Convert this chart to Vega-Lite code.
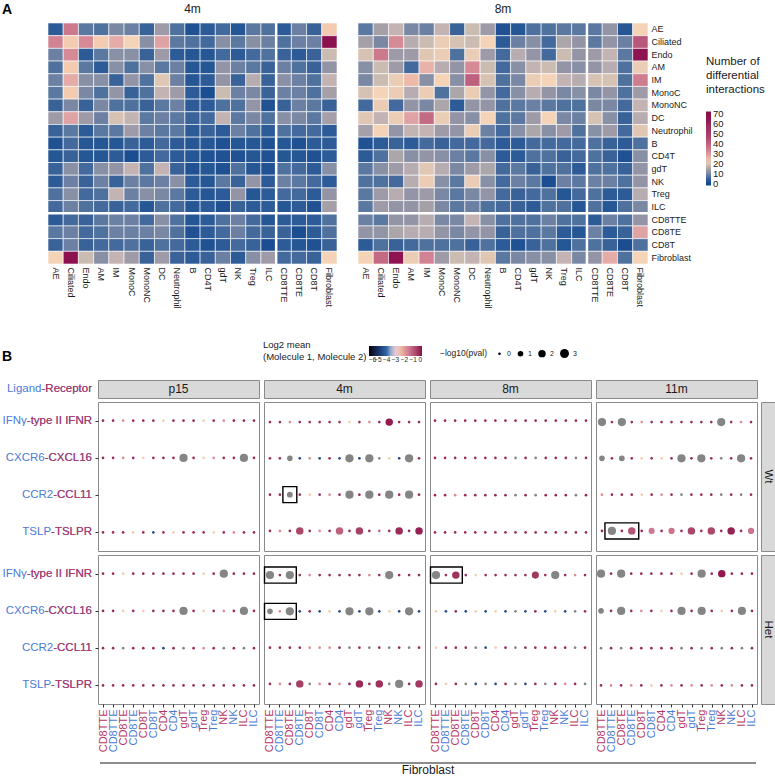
{
"$schema":"https://vega.github.io/schema/vega-lite/v6.json",
"background":"white",
"padding":{"left":2,"top":2,"right":0,"bottom":0},
"config":{"view":{"stroke":null},"font":"Liberation Sans","text":{"font":"Liberation Sans"},"scale":{"invalid":{"fill":{"value":"#858585"},"color":{"value":"#858585"}}},"axis":{"labelFont":"Liberation Sans","labelColor":"#1a1a1a"},"legend":{"labelFont":"Liberation Sans","titleFont":"Liberation Sans","titleFontWeight":"normal","titleColor":"#1a1a1a","labelColor":"#1a1a1a","labelOverlap":false},"title":{"font":"Liberation Sans","fontWeight":"normal","fontSize":12,"color":"#1a1a1a","offset":6}},
"datasets":{
"h4":[
{"r":"AE","c":"AE","v":4},{"r":"AE","c":"Ciliated","v":35},{"r":"AE","c":"Endo","v":8},{"r":"AE","c":"AM","v":7},{"r":"AE","c":"IM","v":10},{"r":"AE","c":"MonoC","v":9},{"r":"AE","c":"MonoNC","v":5},{"r":"AE","c":"DC","v":13},{"r":"AE","c":"Neutrophil","v":7},{"r":"AE","c":"B","v":2},{"r":"AE","c":"CD4T","v":4},{"r":"AE","c":"gdT","v":6},{"r":"AE","c":"NK","v":3},{"r":"AE","c":"Treg","v":8},{"r":"AE","c":"ILC","v":7},{"r":"AE","c":"CD8TTE","v":4},{"r":"AE","c":"CD8TE","v":9},{"r":"AE","c":"CD8T","v":5},{"r":"AE","c":"Fibroblast","v":23},
{"r":"Ciliated","c":"AE","v":33},{"r":"Ciliated","c":"Ciliated","v":23},{"r":"Ciliated","c":"Endo","v":32},{"r":"Ciliated","c":"AM","v":23},{"r":"Ciliated","c":"IM","v":27},{"r":"Ciliated","c":"MonoC","v":22},{"r":"Ciliated","c":"MonoNC","v":11},{"r":"Ciliated","c":"DC","v":28},{"r":"Ciliated","c":"Neutrophil","v":8},{"r":"Ciliated","c":"B","v":7},{"r":"Ciliated","c":"CD4T","v":6},{"r":"Ciliated","c":"gdT","v":11},{"r":"Ciliated","c":"NK","v":8},{"r":"Ciliated","c":"Treg","v":11},{"r":"Ciliated","c":"ILC","v":9},{"r":"Ciliated","c":"CD8TTE","v":7},{"r":"Ciliated","c":"CD8TE","v":9},{"r":"Ciliated","c":"CD8T","v":9},{"r":"Ciliated","c":"Fibroblast","v":68},
{"r":"Endo","c":"AE","v":9},{"r":"Endo","c":"Ciliated","v":32},{"r":"Endo","c":"Endo","v":4},{"r":"Endo","c":"AM","v":8},{"r":"Endo","c":"IM","v":11},{"r":"Endo","c":"MonoC","v":11},{"r":"Endo","c":"MonoNC","v":5},{"r":"Endo","c":"DC","v":13},{"r":"Endo","c":"Neutrophil","v":4},{"r":"Endo","c":"B","v":3},{"r":"Endo","c":"CD4T","v":3},{"r":"Endo","c":"gdT","v":6},{"r":"Endo","c":"NK","v":4},{"r":"Endo","c":"Treg","v":6},{"r":"Endo","c":"ILC","v":7},{"r":"Endo","c":"CD8TTE","v":5},{"r":"Endo","c":"CD8TE","v":4},{"r":"Endo","c":"CD8T","v":5},{"r":"Endo","c":"Fibroblast","v":18},
{"r":"AM","c":"AE","v":7},{"r":"AM","c":"Ciliated","v":23},{"r":"AM","c":"Endo","v":8},{"r":"AM","c":"AM","v":4},{"r":"AM","c":"IM","v":11},{"r":"AM","c":"MonoC","v":7},{"r":"AM","c":"MonoNC","v":11},{"r":"AM","c":"DC","v":8},{"r":"AM","c":"Neutrophil","v":9},{"r":"AM","c":"B","v":3},{"r":"AM","c":"CD4T","v":3},{"r":"AM","c":"gdT","v":12},{"r":"AM","c":"NK","v":9},{"r":"AM","c":"Treg","v":8},{"r":"AM","c":"ILC","v":5},{"r":"AM","c":"CD8TTE","v":9},{"r":"AM","c":"CD8TE","v":7},{"r":"AM","c":"CD8T","v":5},{"r":"AM","c":"Fibroblast","v":12},
{"r":"IM","c":"AE","v":9},{"r":"IM","c":"Ciliated","v":27},{"r":"IM","c":"Endo","v":11},{"r":"IM","c":"AM","v":11},{"r":"IM","c":"IM","v":5},{"r":"IM","c":"MonoC","v":12},{"r":"IM","c":"MonoNC","v":7},{"r":"IM","c":"DC","v":20},{"r":"IM","c":"Neutrophil","v":9},{"r":"IM","c":"B","v":3},{"r":"IM","c":"CD4T","v":4},{"r":"IM","c":"gdT","v":12},{"r":"IM","c":"NK","v":5},{"r":"IM","c":"Treg","v":16},{"r":"IM","c":"ILC","v":5},{"r":"IM","c":"CD8TTE","v":11},{"r":"IM","c":"CD8TE","v":9},{"r":"IM","c":"CD8T","v":7},{"r":"IM","c":"Fibroblast","v":17},
{"r":"MonoC","c":"AE","v":8},{"r":"MonoC","c":"Ciliated","v":23},{"r":"MonoC","c":"Endo","v":10},{"r":"MonoC","c":"AM","v":7},{"r":"MonoC","c":"IM","v":12},{"r":"MonoC","c":"MonoC","v":5},{"r":"MonoC","c":"MonoNC","v":7},{"r":"MonoC","c":"DC","v":17},{"r":"MonoC","c":"Neutrophil","v":13},{"r":"MonoC","c":"B","v":4},{"r":"MonoC","c":"CD4T","v":1},{"r":"MonoC","c":"gdT","v":18},{"r":"MonoC","c":"NK","v":9},{"r":"MonoC","c":"Treg","v":10},{"r":"MonoC","c":"ILC","v":5},{"r":"MonoC","c":"CD8TTE","v":9},{"r":"MonoC","c":"CD8TE","v":9},{"r":"MonoC","c":"CD8T","v":7},{"r":"MonoC","c":"Fibroblast","v":14},
{"r":"MonoNC","c":"AE","v":5},{"r":"MonoNC","c":"Ciliated","v":10},{"r":"MonoNC","c":"Endo","v":5},{"r":"MonoNC","c":"AM","v":10},{"r":"MonoNC","c":"IM","v":7},{"r":"MonoNC","c":"MonoC","v":7},{"r":"MonoNC","c":"MonoNC","v":5},{"r":"MonoNC","c":"DC","v":8},{"r":"MonoNC","c":"Neutrophil","v":9},{"r":"MonoNC","c":"B","v":4},{"r":"MonoNC","c":"CD4T","v":4},{"r":"MonoNC","c":"gdT","v":7},{"r":"MonoNC","c":"NK","v":7},{"r":"MonoNC","c":"Treg","v":12},{"r":"MonoNC","c":"ILC","v":2},{"r":"MonoNC","c":"CD8TTE","v":5},{"r":"MonoNC","c":"CD8TE","v":9},{"r":"MonoNC","c":"CD8T","v":8},{"r":"MonoNC","c":"Fibroblast","v":5},
{"r":"DC","c":"AE","v":13},{"r":"DC","c":"Ciliated","v":28},{"r":"DC","c":"Endo","v":13},{"r":"DC","c":"AM","v":9},{"r":"DC","c":"IM","v":19},{"r":"DC","c":"MonoC","v":17},{"r":"DC","c":"MonoNC","v":8},{"r":"DC","c":"DC","v":9},{"r":"DC","c":"Neutrophil","v":8},{"r":"DC","c":"B","v":5},{"r":"DC","c":"CD4T","v":6},{"r":"DC","c":"gdT","v":17},{"r":"DC","c":"NK","v":8},{"r":"DC","c":"Treg","v":10},{"r":"DC","c":"ILC","v":7},{"r":"DC","c":"CD8TTE","v":11},{"r":"DC","c":"CD8TE","v":10},{"r":"DC","c":"CD8T","v":8},{"r":"DC","c":"Fibroblast","v":14},
{"r":"Neutrophil","c":"AE","v":5},{"r":"Neutrophil","c":"Ciliated","v":8},{"r":"Neutrophil","c":"Endo","v":4},{"r":"Neutrophil","c":"AM","v":8},{"r":"Neutrophil","c":"IM","v":8},{"r":"Neutrophil","c":"MonoC","v":13},{"r":"Neutrophil","c":"MonoNC","v":9},{"r":"Neutrophil","c":"DC","v":8},{"r":"Neutrophil","c":"Neutrophil","v":8},{"r":"Neutrophil","c":"B","v":4},{"r":"Neutrophil","c":"CD4T","v":5},{"r":"Neutrophil","c":"gdT","v":4},{"r":"Neutrophil","c":"NK","v":9},{"r":"Neutrophil","c":"Treg","v":7},{"r":"Neutrophil","c":"ILC","v":4},{"r":"Neutrophil","c":"CD8TTE","v":7},{"r":"Neutrophil","c":"CD8TE","v":6},{"r":"Neutrophil","c":"CD8T","v":6},{"r":"Neutrophil","c":"Fibroblast","v":4},
{"r":"B","c":"AE","v":2},{"r":"B","c":"Ciliated","v":6},{"r":"B","c":"Endo","v":3},{"r":"B","c":"AM","v":3},{"r":"B","c":"IM","v":3},{"r":"B","c":"MonoC","v":5},{"r":"B","c":"MonoNC","v":4},{"r":"B","c":"DC","v":6},{"r":"B","c":"Neutrophil","v":4},{"r":"B","c":"B","v":3},{"r":"B","c":"CD4T","v":3},{"r":"B","c":"gdT","v":2},{"r":"B","c":"NK","v":3},{"r":"B","c":"Treg","v":3},{"r":"B","c":"ILC","v":2},{"r":"B","c":"CD8TTE","v":3},{"r":"B","c":"CD8TE","v":2},{"r":"B","c":"CD8T","v":4},{"r":"B","c":"Fibroblast","v":4},
{"r":"CD4T","c":"AE","v":3},{"r":"CD4T","c":"Ciliated","v":5},{"r":"CD4T","c":"Endo","v":3},{"r":"CD4T","c":"AM","v":3},{"r":"CD4T","c":"IM","v":4},{"r":"CD4T","c":"MonoC","v":1},{"r":"CD4T","c":"MonoNC","v":4},{"r":"CD4T","c":"DC","v":6},{"r":"CD4T","c":"Neutrophil","v":4},{"r":"CD4T","c":"B","v":3},{"r":"CD4T","c":"CD4T","v":2},{"r":"CD4T","c":"gdT","v":2},{"r":"CD4T","c":"NK","v":2},{"r":"CD4T","c":"Treg","v":3},{"r":"CD4T","c":"ILC","v":2},{"r":"CD4T","c":"CD8TTE","v":3},{"r":"CD4T","c":"CD8TE","v":3},{"r":"CD4T","c":"CD8T","v":2},{"r":"CD4T","c":"Fibroblast","v":4},
{"r":"gdT","c":"AE","v":5},{"r":"gdT","c":"Ciliated","v":11},{"r":"gdT","c":"Endo","v":6},{"r":"gdT","c":"AM","v":11},{"r":"gdT","c":"IM","v":12},{"r":"gdT","c":"MonoC","v":17},{"r":"gdT","c":"MonoNC","v":7},{"r":"gdT","c":"DC","v":17},{"r":"gdT","c":"Neutrophil","v":5},{"r":"gdT","c":"B","v":2},{"r":"gdT","c":"CD4T","v":3},{"r":"gdT","c":"gdT","v":2},{"r":"gdT","c":"NK","v":7},{"r":"gdT","c":"Treg","v":3},{"r":"gdT","c":"ILC","v":2},{"r":"gdT","c":"CD8TTE","v":7},{"r":"gdT","c":"CD8TE","v":6},{"r":"gdT","c":"CD8T","v":4},{"r":"gdT","c":"Fibroblast","v":11},
{"r":"NK","c":"AE","v":4},{"r":"NK","c":"Ciliated","v":9},{"r":"NK","c":"Endo","v":5},{"r":"NK","c":"AM","v":9},{"r":"NK","c":"IM","v":5},{"r":"NK","c":"MonoC","v":9},{"r":"NK","c":"MonoNC","v":8},{"r":"NK","c":"DC","v":9},{"r":"NK","c":"Neutrophil","v":11},{"r":"NK","c":"B","v":4},{"r":"NK","c":"CD4T","v":3},{"r":"NK","c":"gdT","v":8},{"r":"NK","c":"NK","v":5},{"r":"NK","c":"Treg","v":12},{"r":"NK","c":"ILC","v":4},{"r":"NK","c":"CD8TTE","v":9},{"r":"NK","c":"CD8TE","v":8},{"r":"NK","c":"CD8T","v":6},{"r":"NK","c":"Fibroblast","v":4},
{"r":"Treg","c":"AE","v":7},{"r":"Treg","c":"Ciliated","v":11},{"r":"Treg","c":"Endo","v":6},{"r":"Treg","c":"AM","v":7},{"r":"Treg","c":"IM","v":17},{"r":"Treg","c":"MonoC","v":9},{"r":"Treg","c":"MonoNC","v":11},{"r":"Treg","c":"DC","v":10},{"r":"Treg","c":"Neutrophil","v":8},{"r":"Treg","c":"B","v":4},{"r":"Treg","c":"CD4T","v":3},{"r":"Treg","c":"gdT","v":4},{"r":"Treg","c":"NK","v":12},{"r":"Treg","c":"Treg","v":3},{"r":"Treg","c":"ILC","v":4},{"r":"Treg","c":"CD8TTE","v":6},{"r":"Treg","c":"CD8TE","v":6},{"r":"Treg","c":"CD8T","v":4},{"r":"Treg","c":"Fibroblast","v":12},
{"r":"ILC","c":"AE","v":6},{"r":"ILC","c":"Ciliated","v":9},{"r":"ILC","c":"Endo","v":7},{"r":"ILC","c":"AM","v":6},{"r":"ILC","c":"IM","v":5},{"r":"ILC","c":"MonoC","v":6},{"r":"ILC","c":"MonoNC","v":3},{"r":"ILC","c":"DC","v":7},{"r":"ILC","c":"Neutrophil","v":6},{"r":"ILC","c":"B","v":3},{"r":"ILC","c":"CD4T","v":4},{"r":"ILC","c":"gdT","v":2},{"r":"ILC","c":"NK","v":5},{"r":"ILC","c":"Treg","v":4},{"r":"ILC","c":"ILC","v":4},{"r":"ILC","c":"CD8TTE","v":3},{"r":"ILC","c":"CD8TE","v":4},{"r":"ILC","c":"CD8T","v":2},{"r":"ILC","c":"Fibroblast","v":14},
{"r":"CD8TTE","c":"AE","v":4},{"r":"CD8TTE","c":"Ciliated","v":6},{"r":"CD8TTE","c":"Endo","v":5},{"r":"CD8TTE","c":"AM","v":8},{"r":"CD8TTE","c":"IM","v":9},{"r":"CD8TTE","c":"MonoC","v":9},{"r":"CD8TTE","c":"MonoNC","v":6},{"r":"CD8TTE","c":"DC","v":11},{"r":"CD8TTE","c":"Neutrophil","v":7},{"r":"CD8TTE","c":"B","v":3},{"r":"CD8TTE","c":"CD4T","v":4},{"r":"CD8TTE","c":"gdT","v":7},{"r":"CD8TTE","c":"NK","v":9},{"r":"CD8TTE","c":"Treg","v":6},{"r":"CD8TTE","c":"ILC","v":3},{"r":"CD8TTE","c":"CD8TTE","v":4},{"r":"CD8TTE","c":"CD8TE","v":4},{"r":"CD8TTE","c":"CD8T","v":4},{"r":"CD8TTE","c":"Fibroblast","v":7},
{"r":"CD8TE","c":"AE","v":8},{"r":"CD8TE","c":"Ciliated","v":9},{"r":"CD8TE","c":"Endo","v":6},{"r":"CD8TE","c":"AM","v":7},{"r":"CD8TE","c":"IM","v":9},{"r":"CD8TE","c":"MonoC","v":9},{"r":"CD8TE","c":"MonoNC","v":9},{"r":"CD8TE","c":"DC","v":10},{"r":"CD8TE","c":"Neutrophil","v":7},{"r":"CD8TE","c":"B","v":2},{"r":"CD8TE","c":"CD4T","v":4},{"r":"CD8TE","c":"gdT","v":6},{"r":"CD8TE","c":"NK","v":9},{"r":"CD8TE","c":"Treg","v":6},{"r":"CD8TE","c":"ILC","v":5},{"r":"CD8TE","c":"CD8TTE","v":5},{"r":"CD8TE","c":"CD8TE","v":1},{"r":"CD8TE","c":"CD8T","v":4},{"r":"CD8TE","c":"Fibroblast","v":7},
{"r":"CD8T","c":"AE","v":5},{"r":"CD8T","c":"Ciliated","v":9},{"r":"CD8T","c":"Endo","v":5},{"r":"CD8T","c":"AM","v":6},{"r":"CD8T","c":"IM","v":6},{"r":"CD8T","c":"MonoC","v":7},{"r":"CD8T","c":"MonoNC","v":5},{"r":"CD8T","c":"DC","v":7},{"r":"CD8T","c":"Neutrophil","v":6},{"r":"CD8T","c":"B","v":4},{"r":"CD8T","c":"CD4T","v":2},{"r":"CD8T","c":"gdT","v":4},{"r":"CD8T","c":"NK","v":6},{"r":"CD8T","c":"Treg","v":5},{"r":"CD8T","c":"ILC","v":1},{"r":"CD8T","c":"CD8TTE","v":4},{"r":"CD8T","c":"CD8TE","v":3},{"r":"CD8T","c":"CD8T","v":2},{"r":"CD8T","c":"Fibroblast","v":5},
{"r":"Fibroblast","c":"AE","v":22},{"r":"Fibroblast","c":"Ciliated","v":68},{"r":"Fibroblast","c":"Endo","v":18},{"r":"Fibroblast","c":"AM","v":11},{"r":"Fibroblast","c":"IM","v":17},{"r":"Fibroblast","c":"MonoC","v":13},{"r":"Fibroblast","c":"MonoNC","v":5},{"r":"Fibroblast","c":"DC","v":13},{"r":"Fibroblast","c":"Neutrophil","v":5},{"r":"Fibroblast","c":"B","v":4},{"r":"Fibroblast","c":"CD4T","v":5},{"r":"Fibroblast","c":"gdT","v":9},{"r":"Fibroblast","c":"NK","v":4},{"r":"Fibroblast","c":"Treg","v":11},{"r":"Fibroblast","c":"ILC","v":13},{"r":"Fibroblast","c":"CD8TTE","v":6},{"r":"Fibroblast","c":"CD8TE","v":6},{"r":"Fibroblast","c":"CD8T","v":5},{"r":"Fibroblast","c":"Fibroblast","v":22}
],
"h8":[
{"r":"AE","c":"AE","v":8},{"r":"AE","c":"Ciliated","v":14},{"r":"AE","c":"Endo","v":17},{"r":"AE","c":"AM","v":10},{"r":"AE","c":"IM","v":9},{"r":"AE","c":"MonoC","v":17},{"r":"AE","c":"MonoNC","v":5},{"r":"AE","c":"DC","v":18},{"r":"AE","c":"Neutrophil","v":13},{"r":"AE","c":"B","v":2},{"r":"AE","c":"CD4T","v":3},{"r":"AE","c":"gdT","v":7},{"r":"AE","c":"NK","v":7},{"r":"AE","c":"Treg","v":8},{"r":"AE","c":"ILC","v":8},{"r":"AE","c":"CD8TTE","v":8},{"r":"AE","c":"CD8TE","v":12},{"r":"AE","c":"CD8T","v":3},{"r":"AE","c":"Fibroblast","v":22},
{"r":"Ciliated","c":"AE","v":14},{"r":"Ciliated","c":"Ciliated","v":10},{"r":"Ciliated","c":"Endo","v":32},{"r":"Ciliated","c":"AM","v":16},{"r":"Ciliated","c":"IM","v":18},{"r":"Ciliated","c":"MonoC","v":21},{"r":"Ciliated","c":"MonoNC","v":19},{"r":"Ciliated","c":"DC","v":18},{"r":"Ciliated","c":"Neutrophil","v":22},{"r":"Ciliated","c":"B","v":4},{"r":"Ciliated","c":"CD4T","v":9},{"r":"Ciliated","c":"gdT","v":11},{"r":"Ciliated","c":"NK","v":6},{"r":"Ciliated","c":"Treg","v":15},{"r":"Ciliated","c":"ILC","v":12},{"r":"Ciliated","c":"CD8TTE","v":8},{"r":"Ciliated","c":"CD8TE","v":12},{"r":"Ciliated","c":"CD8T","v":9},{"r":"Ciliated","c":"Fibroblast","v":42},
{"r":"Endo","c":"AE","v":19},{"r":"Endo","c":"Ciliated","v":35},{"r":"Endo","c":"Endo","v":13},{"r":"Endo","c":"AM","v":13},{"r":"Endo","c":"IM","v":20},{"r":"Endo","c":"MonoC","v":21},{"r":"Endo","c":"MonoNC","v":7},{"r":"Endo","c":"DC","v":21},{"r":"Endo","c":"Neutrophil","v":13},{"r":"Endo","c":"B","v":6},{"r":"Endo","c":"CD4T","v":16},{"r":"Endo","c":"gdT","v":12},{"r":"Endo","c":"NK","v":6},{"r":"Endo","c":"Treg","v":18},{"r":"Endo","c":"ILC","v":12},{"r":"Endo","c":"CD8TTE","v":13},{"r":"Endo","c":"CD8TE","v":17},{"r":"Endo","c":"CD8T","v":8},{"r":"Endo","c":"Fibroblast","v":65},
{"r":"AM","c":"AE","v":11},{"r":"AM","c":"Ciliated","v":18},{"r":"AM","c":"Endo","v":13},{"r":"AM","c":"AM","v":6},{"r":"AM","c":"IM","v":26},{"r":"AM","c":"MonoC","v":16},{"r":"AM","c":"MonoNC","v":12},{"r":"AM","c":"DC","v":32},{"r":"AM","c":"Neutrophil","v":18},{"r":"AM","c":"B","v":6},{"r":"AM","c":"CD4T","v":11},{"r":"AM","c":"gdT","v":17},{"r":"AM","c":"NK","v":18},{"r":"AM","c":"Treg","v":12},{"r":"AM","c":"ILC","v":11},{"r":"AM","c":"CD8TTE","v":12},{"r":"AM","c":"CD8TE","v":16},{"r":"AM","c":"CD8T","v":7},{"r":"AM","c":"Fibroblast","v":21},
{"r":"IM","c":"AE","v":10},{"r":"IM","c":"Ciliated","v":18},{"r":"IM","c":"Endo","v":21},{"r":"IM","c":"AM","v":25},{"r":"IM","c":"IM","v":11},{"r":"IM","c":"MonoC","v":22},{"r":"IM","c":"MonoNC","v":11},{"r":"IM","c":"DC","v":40},{"r":"IM","c":"Neutrophil","v":19},{"r":"IM","c":"B","v":7},{"r":"IM","c":"CD4T","v":10},{"r":"IM","c":"gdT","v":21},{"r":"IM","c":"NK","v":22},{"r":"IM","c":"Treg","v":17},{"r":"IM","c":"ILC","v":16},{"r":"IM","c":"CD8TTE","v":19},{"r":"IM","c":"CD8TE","v":19},{"r":"IM","c":"CD8T","v":7},{"r":"IM","c":"Fibroblast","v":34},
{"r":"MonoC","c":"AE","v":19},{"r":"MonoC","c":"Ciliated","v":22},{"r":"MonoC","c":"Endo","v":21},{"r":"MonoC","c":"AM","v":16},{"r":"MonoC","c":"IM","v":21},{"r":"MonoC","c":"MonoC","v":7},{"r":"MonoC","c":"MonoNC","v":15},{"r":"MonoC","c":"DC","v":21},{"r":"MonoC","c":"Neutrophil","v":12},{"r":"MonoC","c":"B","v":6},{"r":"MonoC","c":"CD4T","v":11},{"r":"MonoC","c":"gdT","v":16},{"r":"MonoC","c":"NK","v":12},{"r":"MonoC","c":"Treg","v":10},{"r":"MonoC","c":"ILC","v":11},{"r":"MonoC","c":"CD8TTE","v":10},{"r":"MonoC","c":"CD8TE","v":12},{"r":"MonoC","c":"CD8T","v":7},{"r":"MonoC","c":"Fibroblast","v":13},
{"r":"MonoNC","c":"AE","v":6},{"r":"MonoNC","c":"Ciliated","v":21},{"r":"MonoNC","c":"Endo","v":6},{"r":"MonoNC","c":"AM","v":12},{"r":"MonoNC","c":"IM","v":10},{"r":"MonoNC","c":"MonoC","v":15},{"r":"MonoNC","c":"MonoNC","v":4},{"r":"MonoNC","c":"DC","v":12},{"r":"MonoNC","c":"Neutrophil","v":12},{"r":"MonoNC","c":"B","v":7},{"r":"MonoNC","c":"CD4T","v":8},{"r":"MonoNC","c":"gdT","v":9},{"r":"MonoNC","c":"NK","v":8},{"r":"MonoNC","c":"Treg","v":7},{"r":"MonoNC","c":"ILC","v":7},{"r":"MonoNC","c":"CD8TTE","v":10},{"r":"MonoNC","c":"CD8TE","v":10},{"r":"MonoNC","c":"CD8T","v":6},{"r":"MonoNC","c":"Fibroblast","v":17},
{"r":"DC","c":"AE","v":20},{"r":"DC","c":"Ciliated","v":17},{"r":"DC","c":"Endo","v":21},{"r":"DC","c":"AM","v":28},{"r":"DC","c":"IM","v":38},{"r":"DC","c":"MonoC","v":21},{"r":"DC","c":"MonoNC","v":12},{"r":"DC","c":"DC","v":11},{"r":"DC","c":"Neutrophil","v":22},{"r":"DC","c":"B","v":7},{"r":"DC","c":"CD4T","v":8},{"r":"DC","c":"gdT","v":13},{"r":"DC","c":"NK","v":22},{"r":"DC","c":"Treg","v":10},{"r":"DC","c":"ILC","v":9},{"r":"DC","c":"CD8TTE","v":19},{"r":"DC","c":"CD8TE","v":11},{"r":"DC","c":"CD8T","v":5},{"r":"DC","c":"Fibroblast","v":16},
{"r":"Neutrophil","c":"AE","v":14},{"r":"Neutrophil","c":"Ciliated","v":22},{"r":"Neutrophil","c":"Endo","v":12},{"r":"Neutrophil","c":"AM","v":17},{"r":"Neutrophil","c":"IM","v":17},{"r":"Neutrophil","c":"MonoC","v":13},{"r":"Neutrophil","c":"MonoNC","v":12},{"r":"Neutrophil","c":"DC","v":21},{"r":"Neutrophil","c":"Neutrophil","v":9},{"r":"Neutrophil","c":"B","v":6},{"r":"Neutrophil","c":"CD4T","v":11},{"r":"Neutrophil","c":"gdT","v":15},{"r":"Neutrophil","c":"NK","v":11},{"r":"Neutrophil","c":"Treg","v":13},{"r":"Neutrophil","c":"ILC","v":7},{"r":"Neutrophil","c":"CD8TTE","v":11},{"r":"Neutrophil","c":"CD8TE","v":13},{"r":"Neutrophil","c":"CD8T","v":6},{"r":"Neutrophil","c":"Fibroblast","v":20},
{"r":"B","c":"AE","v":2},{"r":"B","c":"Ciliated","v":4},{"r":"B","c":"Endo","v":5},{"r":"B","c":"AM","v":4},{"r":"B","c":"IM","v":6},{"r":"B","c":"MonoC","v":5},{"r":"B","c":"MonoNC","v":6},{"r":"B","c":"DC","v":6},{"r":"B","c":"Neutrophil","v":6},{"r":"B","c":"B","v":4},{"r":"B","c":"CD4T","v":4},{"r":"B","c":"gdT","v":6},{"r":"B","c":"NK","v":6},{"r":"B","c":"Treg","v":6},{"r":"B","c":"ILC","v":6},{"r":"B","c":"CD8TTE","v":7},{"r":"B","c":"CD8TE","v":5},{"r":"B","c":"CD8T","v":4},{"r":"B","c":"Fibroblast","v":7},
{"r":"CD4T","c":"AE","v":4},{"r":"CD4T","c":"Ciliated","v":7},{"r":"CD4T","c":"Endo","v":15},{"r":"CD4T","c":"AM","v":11},{"r":"CD4T","c":"IM","v":12},{"r":"CD4T","c":"MonoC","v":11},{"r":"CD4T","c":"MonoNC","v":9},{"r":"CD4T","c":"DC","v":8},{"r":"CD4T","c":"Neutrophil","v":11},{"r":"CD4T","c":"B","v":4},{"r":"CD4T","c":"CD4T","v":4},{"r":"CD4T","c":"gdT","v":7},{"r":"CD4T","c":"NK","v":7},{"r":"CD4T","c":"Treg","v":5},{"r":"CD4T","c":"ILC","v":6},{"r":"CD4T","c":"CD8TTE","v":7},{"r":"CD4T","c":"CD8TE","v":5},{"r":"CD4T","c":"CD8T","v":2},{"r":"CD4T","c":"Fibroblast","v":11},
{"r":"gdT","c":"AE","v":8},{"r":"gdT","c":"Ciliated","v":11},{"r":"gdT","c":"Endo","v":13},{"r":"gdT","c":"AM","v":16},{"r":"gdT","c":"IM","v":20},{"r":"gdT","c":"MonoC","v":16},{"r":"gdT","c":"MonoNC","v":10},{"r":"gdT","c":"DC","v":13},{"r":"gdT","c":"Neutrophil","v":15},{"r":"gdT","c":"B","v":6},{"r":"gdT","c":"CD4T","v":8},{"r":"gdT","c":"gdT","v":5},{"r":"gdT","c":"NK","v":7},{"r":"gdT","c":"Treg","v":7},{"r":"gdT","c":"ILC","v":4},{"r":"gdT","c":"CD8TTE","v":7},{"r":"gdT","c":"CD8TE","v":7},{"r":"gdT","c":"CD8T","v":5},{"r":"gdT","c":"Fibroblast","v":12},
{"r":"NK","c":"AE","v":7},{"r":"NK","c":"Ciliated","v":7},{"r":"NK","c":"Endo","v":6},{"r":"NK","c":"AM","v":16},{"r":"NK","c":"IM","v":21},{"r":"NK","c":"MonoC","v":11},{"r":"NK","c":"MonoNC","v":8},{"r":"NK","c":"DC","v":21},{"r":"NK","c":"Neutrophil","v":11},{"r":"NK","c":"B","v":6},{"r":"NK","c":"CD4T","v":9},{"r":"NK","c":"gdT","v":8},{"r":"NK","c":"NK","v":1},{"r":"NK","c":"Treg","v":9},{"r":"NK","c":"ILC","v":8},{"r":"NK","c":"CD8TTE","v":9},{"r":"NK","c":"CD8TE","v":9},{"r":"NK","c":"CD8T","v":7},{"r":"NK","c":"Fibroblast","v":12},
{"r":"Treg","c":"AE","v":8},{"r":"Treg","c":"Ciliated","v":13},{"r":"Treg","c":"Endo","v":16},{"r":"Treg","c":"AM","v":12},{"r":"Treg","c":"IM","v":13},{"r":"Treg","c":"MonoC","v":10},{"r":"Treg","c":"MonoNC","v":8},{"r":"Treg","c":"DC","v":10},{"r":"Treg","c":"Neutrophil","v":12},{"r":"Treg","c":"B","v":6},{"r":"Treg","c":"CD4T","v":5},{"r":"Treg","c":"gdT","v":6},{"r":"Treg","c":"NK","v":7},{"r":"Treg","c":"Treg","v":3},{"r":"Treg","c":"ILC","v":6},{"r":"Treg","c":"CD8TTE","v":7},{"r":"Treg","c":"CD8TE","v":4},{"r":"Treg","c":"CD8T","v":4},{"r":"Treg","c":"Fibroblast","v":16},
{"r":"ILC","c":"AE","v":8},{"r":"ILC","c":"Ciliated","v":13},{"r":"ILC","c":"Endo","v":12},{"r":"ILC","c":"AM","v":12},{"r":"ILC","c":"IM","v":14},{"r":"ILC","c":"MonoC","v":10},{"r":"ILC","c":"MonoNC","v":8},{"r":"ILC","c":"DC","v":9},{"r":"ILC","c":"Neutrophil","v":7},{"r":"ILC","c":"B","v":6},{"r":"ILC","c":"CD4T","v":5},{"r":"ILC","c":"gdT","v":4},{"r":"ILC","c":"NK","v":7},{"r":"ILC","c":"Treg","v":7},{"r":"ILC","c":"ILC","v":3},{"r":"ILC","c":"CD8TTE","v":7},{"r":"ILC","c":"CD8TE","v":3},{"r":"ILC","c":"CD8T","v":7},{"r":"ILC","c":"Fibroblast","v":10},
{"r":"CD8TTE","c":"AE","v":9},{"r":"CD8TTE","c":"Ciliated","v":8},{"r":"CD8TTE","c":"Endo","v":12},{"r":"CD8TTE","c":"AM","v":12},{"r":"CD8TTE","c":"IM","v":16},{"r":"CD8TTE","c":"MonoC","v":10},{"r":"CD8TTE","c":"MonoNC","v":10},{"r":"CD8TTE","c":"DC","v":17},{"r":"CD8TTE","c":"Neutrophil","v":11},{"r":"CD8TTE","c":"B","v":7},{"r":"CD8TTE","c":"CD4T","v":7},{"r":"CD8TTE","c":"gdT","v":7},{"r":"CD8TTE","c":"NK","v":9},{"r":"CD8TTE","c":"Treg","v":7},{"r":"CD8TTE","c":"ILC","v":7},{"r":"CD8TTE","c":"CD8TTE","v":4},{"r":"CD8TTE","c":"CD8TE","v":9},{"r":"CD8TTE","c":"CD8T","v":7},{"r":"CD8TTE","c":"Fibroblast","v":12},
{"r":"CD8TE","c":"AE","v":12},{"r":"CD8TE","c":"Ciliated","v":12},{"r":"CD8TE","c":"Endo","v":15},{"r":"CD8TE","c":"AM","v":16},{"r":"CD8TE","c":"IM","v":16},{"r":"CD8TE","c":"MonoC","v":12},{"r":"CD8TE","c":"MonoNC","v":10},{"r":"CD8TE","c":"DC","v":12},{"r":"CD8TE","c":"Neutrophil","v":12},{"r":"CD8TE","c":"B","v":5},{"r":"CD8TE","c":"CD4T","v":7},{"r":"CD8TE","c":"gdT","v":7},{"r":"CD8TE","c":"NK","v":8},{"r":"CD8TE","c":"Treg","v":4},{"r":"CD8TE","c":"ILC","v":3},{"r":"CD8TE","c":"CD8TTE","v":9},{"r":"CD8TE","c":"CD8TE","v":4},{"r":"CD8TE","c":"CD8T","v":5},{"r":"CD8TE","c":"Fibroblast","v":28},
{"r":"CD8T","c":"AE","v":4},{"r":"CD8T","c":"Ciliated","v":7},{"r":"CD8T","c":"Endo","v":5},{"r":"CD8T","c":"AM","v":6},{"r":"CD8T","c":"IM","v":7},{"r":"CD8T","c":"MonoC","v":7},{"r":"CD8T","c":"MonoNC","v":7},{"r":"CD8T","c":"DC","v":5},{"r":"CD8T","c":"Neutrophil","v":7},{"r":"CD8T","c":"B","v":4},{"r":"CD8T","c":"CD4T","v":2},{"r":"CD8T","c":"gdT","v":5},{"r":"CD8T","c":"NK","v":7},{"r":"CD8T","c":"Treg","v":3},{"r":"CD8T","c":"ILC","v":7},{"r":"CD8T","c":"CD8TTE","v":7},{"r":"CD8T","c":"CD8TE","v":5},{"r":"CD8T","c":"CD8T","v":1},{"r":"CD8T","c":"Fibroblast","v":7},
{"r":"Fibroblast","c":"AE","v":22},{"r":"Fibroblast","c":"Ciliated","v":38},{"r":"Fibroblast","c":"Endo","v":65},{"r":"Fibroblast","c":"AM","v":21},{"r":"Fibroblast","c":"IM","v":33},{"r":"Fibroblast","c":"MonoC","v":13},{"r":"Fibroblast","c":"MonoNC","v":18},{"r":"Fibroblast","c":"DC","v":17},{"r":"Fibroblast","c":"Neutrophil","v":20},{"r":"Fibroblast","c":"B","v":8},{"r":"Fibroblast","c":"CD4T","v":10},{"r":"Fibroblast","c":"gdT","v":11},{"r":"Fibroblast","c":"NK","v":11},{"r":"Fibroblast","c":"Treg","v":17},{"r":"Fibroblast","c":"ILC","v":10},{"r":"Fibroblast","c":"CD8TTE","v":12},{"r":"Fibroblast","c":"CD8TE","v":27},{"r":"Fibroblast","c":"CD8T","v":7},{"r":"Fibroblast","c":"Fibroblast","v":22}
],
"lrs":[{"y":"IFN","full":"IFNγ-type II IFNR","rec":"-type II IFNR"},{"y":"CXCR6","full":"CXCR6-CXCL16","rec":"-CXCL16"},{"y":"CCR2","full":"CCR2-CCL11","rec":"-CCL11"},{"y":"TSLP","full":"TSLP-TSLPR","rec":"-TSLPR"}],
"p15W":[
{"y":"IFN","x":"CD8TTE r","m":-0.3,"p":0},{"y":"IFN","x":"CD8TTE b","m":-0.3,"p":0},{"y":"IFN","x":"CD8TE r","m":-1.8,"p":0},{"y":"IFN","x":"CD8TE b","m":-0.3,"p":0},{"y":"IFN","x":"CD8T r","m":-0.3,"p":0},{"y":"IFN","x":"CD8T b","m":-0.3,"p":0},{"y":"IFN","x":"CD4 r","m":-2.7,"p":0},{"y":"IFN","x":"CD4 b","m":-0.3,"p":0},{"y":"IFN","x":"gdT r","m":-0.3,"p":0},{"y":"IFN","x":"gdT b","m":-0.3,"p":0},{"y":"IFN","x":"Treg r","m":-2.7,"p":0},{"y":"IFN","x":"Treg b","m":-0.3,"p":0},{"y":"IFN","x":"NK r","m":-1.8,"p":0},{"y":"IFN","x":"NK b","m":-0.3,"p":0},{"y":"IFN","x":"ILC r","m":-0.3,"p":0},{"y":"IFN","x":"ILC b","m":-0.3,"p":0},
{"y":"CXCR6","x":"CD8TTE r","m":-0.3,"p":0},{"y":"CXCR6","x":"CD8TTE b","m":-0.3,"p":0},{"y":"CXCR6","x":"CD8TE r","m":-1.8,"p":0},{"y":"CXCR6","x":"CD8TE b","m":-0.3,"p":0},{"y":"CXCR6","x":"CD8T r","m":-2.7,"p":0},{"y":"CXCR6","x":"CD8T b","m":-0.3,"p":0},{"y":"CXCR6","x":"CD4 r","m":-0.3,"p":0},{"y":"CXCR6","x":"CD4 b","m":-0.3,"p":0},{"y":"CXCR6","x":"gdT r","m":null,"p":2.5},{"y":"CXCR6","x":"gdT b","m":-0.3,"p":0},{"y":"CXCR6","x":"Treg r","m":-2.7,"p":0},{"y":"CXCR6","x":"Treg b","m":-1.8,"p":0},{"y":"CXCR6","x":"NK r","m":-0.3,"p":0},{"y":"CXCR6","x":"NK b","m":-0.3,"p":0},{"y":"CXCR6","x":"ILC r","m":null,"p":2.5},{"y":"CXCR6","x":"ILC b","m":-0.3,"p":0},
{"y":"TSLP","x":"CD8TTE r","m":-0.3,"p":0},{"y":"TSLP","x":"CD8TTE b","m":-0.3,"p":0},{"y":"TSLP","x":"CD8TE r","m":-0.3,"p":0},{"y":"TSLP","x":"CD8TE b","m":-2.7,"p":0},{"y":"TSLP","x":"CD8T r","m":-0.3,"p":0},{"y":"TSLP","x":"CD8T b","m":-4.5,"p":0},{"y":"TSLP","x":"CD4 r","m":-0.3,"p":0},{"y":"TSLP","x":"CD4 b","m":-2.7,"p":0},{"y":"TSLP","x":"gdT r","m":-0.3,"p":0},{"y":"TSLP","x":"gdT b","m":-0.3,"p":0},{"y":"TSLP","x":"Treg r","m":-0.3,"p":0},{"y":"TSLP","x":"Treg b","m":-2.7,"p":0},{"y":"TSLP","x":"NK r","m":-0.3,"p":0},{"y":"TSLP","x":"NK b","m":-1.8,"p":0},{"y":"TSLP","x":"ILC r","m":-0.3,"p":0},{"y":"TSLP","x":"ILC b","m":-0.3,"p":0}
],
"m4W":[
{"y":"IFN","x":"CD8TTE r","m":-0.3,"p":0},{"y":"IFN","x":"CD8TTE b","m":-0.3,"p":0},{"y":"IFN","x":"CD8TE r","m":-1.8,"p":0},{"y":"IFN","x":"CD8TE b","m":-0.3,"p":0},{"y":"IFN","x":"CD8T r","m":-0.3,"p":0},{"y":"IFN","x":"CD8T b","m":-0.3,"p":0},{"y":"IFN","x":"CD4 r","m":-0.3,"p":0},{"y":"IFN","x":"CD4 b","m":-0.3,"p":0},{"y":"IFN","x":"gdT r","m":-2.7,"p":0},{"y":"IFN","x":"gdT b","m":-0.3,"p":0},{"y":"IFN","x":"Treg r","m":-1.8,"p":0},{"y":"IFN","x":"Treg b","m":-0.3,"p":0},{"y":"IFN","x":"NK r","m":-0.15,"p":2},{"y":"IFN","x":"NK b","m":-0.3,"p":0},{"y":"IFN","x":"ILC r","m":-0.3,"p":0},{"y":"IFN","x":"ILC b","m":-0.3,"p":0},
{"y":"CXCR6","x":"CD8TTE r","m":-0.3,"p":0},{"y":"CXCR6","x":"CD8TTE b","m":-0.3,"p":0},{"y":"CXCR6","x":"CD8TE r","m":null,"p":1},{"y":"CXCR6","x":"CD8TE b","m":-4.5,"p":0},{"y":"CXCR6","x":"CD8T r","m":-1.8,"p":0},{"y":"CXCR6","x":"CD8T b","m":-4.5,"p":0},{"y":"CXCR6","x":"CD4 r","m":-0.3,"p":0},{"y":"CXCR6","x":"CD4 b","m":-4.5,"p":0},{"y":"CXCR6","x":"gdT r","m":null,"p":2.5},{"y":"CXCR6","x":"gdT b","m":-4.5,"p":0},{"y":"CXCR6","x":"Treg r","m":null,"p":2.5},{"y":"CXCR6","x":"Treg b","m":null,"p":0},{"y":"CXCR6","x":"NK r","m":-2.7,"p":0},{"y":"CXCR6","x":"NK b","m":-4.5,"p":0},{"y":"CXCR6","x":"ILC r","m":null,"p":2.5},{"y":"CXCR6","x":"ILC b","m":-0.3,"p":0},
{"y":"CCR2","x":"CD8TTE r","m":-0.3,"p":0},{"y":"CCR2","x":"CD8TTE b","m":-0.3,"p":0},{"y":"CCR2","x":"CD8TE r","m":null,"p":1.1},{"y":"CCR2","x":"CD8TE b","m":-0.3,"p":0},{"y":"CCR2","x":"CD8T r","m":-2.7,"p":0},{"y":"CCR2","x":"CD8T b","m":-0.3,"p":0},{"y":"CCR2","x":"CD4 r","m":-1.8,"p":0},{"y":"CCR2","x":"CD4 b","m":-0.3,"p":0},{"y":"CCR2","x":"gdT r","m":null,"p":2.5},{"y":"CCR2","x":"gdT b","m":-0.3,"p":0},{"y":"CCR2","x":"Treg r","m":null,"p":2.5},{"y":"CCR2","x":"Treg b","m":-0.3,"p":0},{"y":"CCR2","x":"NK r","m":null,"p":2.5},{"y":"CCR2","x":"NK b","m":-0.3,"p":0},{"y":"CCR2","x":"ILC r","m":null,"p":2.5},{"y":"CCR2","x":"ILC b","m":-0.3,"p":0},
{"y":"TSLP","x":"CD8TTE r","m":-0.3,"p":0},{"y":"TSLP","x":"CD8TTE b","m":-1.8,"p":0},{"y":"TSLP","x":"CD8TE r","m":-0.3,"p":0},{"y":"TSLP","x":"CD8TE b","m":-0.7,"p":2},{"y":"TSLP","x":"CD8T r","m":-0.3,"p":0},{"y":"TSLP","x":"CD8T b","m":-1.8,"p":0},{"y":"TSLP","x":"CD4 r","m":-0.3,"p":0},{"y":"TSLP","x":"CD4 b","m":-1.1,"p":2},{"y":"TSLP","x":"gdT r","m":-0.3,"p":0},{"y":"TSLP","x":"gdT b","m":-0.6,"p":2},{"y":"TSLP","x":"Treg r","m":-0.3,"p":0},{"y":"TSLP","x":"Treg b","m":-1.2,"p":0},{"y":"TSLP","x":"NK r","m":-0.3,"p":0},{"y":"TSLP","x":"NK b","m":-0.3,"p":2},{"y":"TSLP","x":"ILC r","m":-0.3,"p":0},{"y":"TSLP","x":"ILC b","m":-0.2,"p":2}
],
"m8W":[
{"y":"IFN","x":"CD8TTE r","m":-0.3,"p":0},{"y":"IFN","x":"CD8TTE b","m":-0.3,"p":0},{"y":"IFN","x":"CD8TE r","m":-0.3,"p":0},{"y":"IFN","x":"CD8TE b","m":-0.3,"p":0},{"y":"IFN","x":"CD8T r","m":-0.3,"p":0},{"y":"IFN","x":"CD8T b","m":-0.3,"p":0},{"y":"IFN","x":"CD4 r","m":-0.3,"p":0},{"y":"IFN","x":"CD4 b","m":-0.3,"p":0},{"y":"IFN","x":"gdT r","m":-0.3,"p":0},{"y":"IFN","x":"gdT b","m":-0.3,"p":0},{"y":"IFN","x":"Treg r","m":-0.3,"p":0},{"y":"IFN","x":"Treg b","m":-0.3,"p":0},{"y":"IFN","x":"NK r","m":-0.3,"p":0},{"y":"IFN","x":"NK b","m":-0.3,"p":0},{"y":"IFN","x":"ILC r","m":-0.3,"p":0},{"y":"IFN","x":"ILC b","m":-0.3,"p":0},
{"y":"CXCR6","x":"CD8TTE r","m":-0.3,"p":0},{"y":"CXCR6","x":"CD8TTE b","m":-0.3,"p":0},{"y":"CXCR6","x":"CD8TE r","m":-0.3,"p":0},{"y":"CXCR6","x":"CD8TE b","m":-0.3,"p":0},{"y":"CXCR6","x":"CD8T r","m":-0.3,"p":0},{"y":"CXCR6","x":"CD8T b","m":-0.3,"p":0},{"y":"CXCR6","x":"CD4 r","m":-0.3,"p":0},{"y":"CXCR6","x":"CD4 b","m":-0.3,"p":0},{"y":"CXCR6","x":"gdT r","m":null,"p":0},{"y":"CXCR6","x":"gdT b","m":-0.3,"p":0},{"y":"CXCR6","x":"Treg r","m":null,"p":0},{"y":"CXCR6","x":"Treg b","m":-0.3,"p":0},{"y":"CXCR6","x":"NK r","m":-0.3,"p":0},{"y":"CXCR6","x":"NK b","m":-0.3,"p":0},{"y":"CXCR6","x":"ILC r","m":null,"p":0},{"y":"CXCR6","x":"ILC b","m":-0.3,"p":0},
{"y":"CCR2","x":"CD8TTE r","m":-0.3,"p":0},{"y":"CCR2","x":"CD8TTE b","m":-0.3,"p":0},{"y":"CCR2","x":"CD8TE r","m":-1.8,"p":0},{"y":"CCR2","x":"CD8TE b","m":-0.3,"p":0},{"y":"CCR2","x":"CD8T r","m":-0.3,"p":0},{"y":"CCR2","x":"CD8T b","m":-0.3,"p":0},{"y":"CCR2","x":"CD4 r","m":-0.3,"p":0},{"y":"CCR2","x":"CD4 b","m":-0.3,"p":0},{"y":"CCR2","x":"gdT r","m":null,"p":0},{"y":"CCR2","x":"gdT b","m":-0.3,"p":0},{"y":"CCR2","x":"Treg r","m":null,"p":0},{"y":"CCR2","x":"Treg b","m":-0.3,"p":0},{"y":"CCR2","x":"NK r","m":-0.3,"p":0},{"y":"CCR2","x":"NK b","m":-0.3,"p":0},{"y":"CCR2","x":"ILC r","m":null,"p":0},{"y":"CCR2","x":"ILC b","m":-0.3,"p":0},
{"y":"TSLP","x":"CD8TTE r","m":-0.3,"p":0},{"y":"TSLP","x":"CD8TTE b","m":-0.3,"p":0},{"y":"TSLP","x":"CD8TE r","m":-0.3,"p":0},{"y":"TSLP","x":"CD8TE b","m":-0.3,"p":0},{"y":"TSLP","x":"CD8T r","m":-0.3,"p":0},{"y":"TSLP","x":"CD8T b","m":-0.3,"p":0},{"y":"TSLP","x":"CD4 r","m":-0.3,"p":0},{"y":"TSLP","x":"CD4 b","m":-0.3,"p":0},{"y":"TSLP","x":"gdT r","m":-0.3,"p":0},{"y":"TSLP","x":"gdT b","m":-0.3,"p":0},{"y":"TSLP","x":"Treg r","m":-0.3,"p":0},{"y":"TSLP","x":"Treg b","m":-0.3,"p":0},{"y":"TSLP","x":"NK r","m":-0.3,"p":0},{"y":"TSLP","x":"NK b","m":-0.3,"p":0},{"y":"TSLP","x":"ILC r","m":-0.3,"p":0},{"y":"TSLP","x":"ILC b","m":-0.3,"p":0}
],
"m11W":[
{"y":"IFN","x":"CD8TTE r","m":null,"p":2.5},{"y":"IFN","x":"CD8TTE b","m":-0.3,"p":0},{"y":"IFN","x":"CD8TE r","m":null,"p":2.5},{"y":"IFN","x":"CD8TE b","m":-0.3,"p":0},{"y":"IFN","x":"CD8T r","m":-1.8,"p":0},{"y":"IFN","x":"CD8T b","m":-0.3,"p":0},{"y":"IFN","x":"CD4 r","m":-0.3,"p":0},{"y":"IFN","x":"CD4 b","m":-0.3,"p":0},{"y":"IFN","x":"gdT r","m":-0.3,"p":0},{"y":"IFN","x":"gdT b","m":-0.3,"p":0},{"y":"IFN","x":"Treg r","m":-0.3,"p":0},{"y":"IFN","x":"Treg b","m":-0.3,"p":0},{"y":"IFN","x":"NK r","m":null,"p":2.5},{"y":"IFN","x":"NK b","m":-0.3,"p":0},{"y":"IFN","x":"ILC r","m":-1.8,"p":0},{"y":"IFN","x":"ILC b","m":-0.3,"p":0},
{"y":"CXCR6","x":"CD8TTE r","m":null,"p":1},{"y":"CXCR6","x":"CD8TTE b","m":-0.3,"p":0},{"y":"CXCR6","x":"CD8TE r","m":null,"p":1.1},{"y":"CXCR6","x":"CD8TE b","m":-0.3,"p":0},{"y":"CXCR6","x":"CD8T r","m":-2.7,"p":0},{"y":"CXCR6","x":"CD8T b","m":-0.3,"p":0},{"y":"CXCR6","x":"CD4 r","m":-2.7,"p":0},{"y":"CXCR6","x":"CD4 b","m":-0.3,"p":0},{"y":"CXCR6","x":"gdT r","m":null,"p":2.5},{"y":"CXCR6","x":"gdT b","m":-0.3,"p":0},{"y":"CXCR6","x":"Treg r","m":null,"p":2.5},{"y":"CXCR6","x":"Treg b","m":-0.3,"p":0},{"y":"CXCR6","x":"NK r","m":null,"p":0},{"y":"CXCR6","x":"NK b","m":-0.3,"p":0},{"y":"CXCR6","x":"ILC r","m":null,"p":2.5},{"y":"CXCR6","x":"ILC b","m":-0.3,"p":0},
{"y":"CCR2","x":"CD8TTE r","m":-1.8,"p":0},{"y":"CCR2","x":"CD8TTE b","m":-0.3,"p":0},{"y":"CCR2","x":"CD8TE r","m":-0.3,"p":0},{"y":"CCR2","x":"CD8TE b","m":-0.3,"p":0},{"y":"CCR2","x":"CD8T r","m":-2.7,"p":0},{"y":"CCR2","x":"CD8T b","m":-0.3,"p":0},{"y":"CCR2","x":"CD4 r","m":-1.8,"p":0},{"y":"CCR2","x":"CD4 b","m":-0.3,"p":0},{"y":"CCR2","x":"gdT r","m":null,"p":0},{"y":"CCR2","x":"gdT b","m":-0.3,"p":0},{"y":"CCR2","x":"Treg r","m":-0.3,"p":0},{"y":"CCR2","x":"Treg b","m":-0.3,"p":0},{"y":"CCR2","x":"NK r","m":null,"p":0},{"y":"CCR2","x":"NK b","m":-0.3,"p":0},{"y":"CCR2","x":"ILC r","m":null,"p":0},{"y":"CCR2","x":"ILC b","m":-0.3,"p":0},
{"y":"TSLP","x":"CD8TTE r","m":-0.3,"p":0},{"y":"TSLP","x":"CD8TTE b","m":null,"p":2.5},{"y":"TSLP","x":"CD8TE r","m":-0.3,"p":0},{"y":"TSLP","x":"CD8TE b","m":-0.9,"p":2},{"y":"TSLP","x":"CD8T r","m":-0.3,"p":0},{"y":"TSLP","x":"CD8T b","m":-1.5,"p":1.2},{"y":"TSLP","x":"CD4 r","m":-0.3,"p":0},{"y":"TSLP","x":"CD4 b","m":-1.4,"p":1.3},{"y":"TSLP","x":"gdT r","m":-0.3,"p":0},{"y":"TSLP","x":"gdT b","m":-0.7,"p":2},{"y":"TSLP","x":"Treg r","m":-0.3,"p":0},{"y":"TSLP","x":"Treg b","m":-0.7,"p":2},{"y":"TSLP","x":"NK r","m":-0.3,"p":0},{"y":"TSLP","x":"NK b","m":-0.2,"p":2},{"y":"TSLP","x":"ILC r","m":-0.3,"p":0},{"y":"TSLP","x":"ILC b","m":-1.4,"p":1.3}
],
"p15H":[
{"y":"IFN","x":"CD8TTE r","m":-0.3,"p":0},{"y":"IFN","x":"CD8TTE b","m":-0.3,"p":0},{"y":"IFN","x":"CD8TE r","m":-2.7,"p":0},{"y":"IFN","x":"CD8TE b","m":-0.3,"p":0},{"y":"IFN","x":"CD8T r","m":-0.3,"p":0},{"y":"IFN","x":"CD8T b","m":-0.3,"p":0},{"y":"IFN","x":"CD4 r","m":-0.3,"p":0},{"y":"IFN","x":"CD4 b","m":-0.3,"p":0},{"y":"IFN","x":"gdT r","m":-0.3,"p":0},{"y":"IFN","x":"gdT b","m":-0.3,"p":0},{"y":"IFN","x":"Treg r","m":-2.7,"p":0},{"y":"IFN","x":"Treg b","m":-0.3,"p":0},{"y":"IFN","x":"NK r","m":null,"p":2.5},{"y":"IFN","x":"NK b","m":-0.3,"p":0},{"y":"IFN","x":"ILC r","m":-0.3,"p":0},{"y":"IFN","x":"ILC b","m":-0.3,"p":0},
{"y":"CXCR6","x":"CD8TTE r","m":-0.3,"p":0},{"y":"CXCR6","x":"CD8TTE b","m":-0.3,"p":0},{"y":"CXCR6","x":"CD8TE r","m":-2.7,"p":0},{"y":"CXCR6","x":"CD8TE b","m":-0.3,"p":0},{"y":"CXCR6","x":"CD8T r","m":-2.7,"p":0},{"y":"CXCR6","x":"CD8T b","m":-0.3,"p":0},{"y":"CXCR6","x":"CD4 r","m":-0.3,"p":0},{"y":"CXCR6","x":"CD4 b","m":-0.3,"p":0},{"y":"CXCR6","x":"gdT r","m":null,"p":2.5},{"y":"CXCR6","x":"gdT b","m":-0.3,"p":0},{"y":"CXCR6","x":"Treg r","m":-2.7,"p":0},{"y":"CXCR6","x":"Treg b","m":-0.3,"p":0},{"y":"CXCR6","x":"NK r","m":-1.8,"p":0},{"y":"CXCR6","x":"NK b","m":-0.3,"p":0},{"y":"CXCR6","x":"ILC r","m":null,"p":2.5},{"y":"CXCR6","x":"ILC b","m":-0.3,"p":0},
{"y":"CCR2","x":"CD8TTE r","m":-0.3,"p":0},{"y":"CCR2","x":"CD8TTE b","m":-0.3,"p":0},{"y":"CCR2","x":"CD8TE r","m":null,"p":0},{"y":"CCR2","x":"CD8TE b","m":-0.3,"p":0},{"y":"CCR2","x":"CD8T r","m":-0.3,"p":0},{"y":"CCR2","x":"CD8T b","m":-0.3,"p":0},{"y":"CCR2","x":"CD4 r","m":-4.5,"p":0},{"y":"CCR2","x":"CD4 b","m":-0.3,"p":0},{"y":"CCR2","x":"gdT r","m":null,"p":0},{"y":"CCR2","x":"gdT b","m":-0.3,"p":0},{"y":"CCR2","x":"Treg r","m":-1.8,"p":0},{"y":"CCR2","x":"Treg b","m":-0.3,"p":0},{"y":"CCR2","x":"NK r","m":null,"p":0},{"y":"CCR2","x":"NK b","m":-0.3,"p":0},{"y":"CCR2","x":"ILC r","m":null,"p":0},{"y":"CCR2","x":"ILC b","m":-0.3,"p":0},
{"y":"TSLP","x":"CD8TTE r","m":-0.3,"p":0},{"y":"TSLP","x":"CD8TTE b","m":-0.3,"p":0},{"y":"TSLP","x":"CD8TE r","m":-0.3,"p":0},{"y":"TSLP","x":"CD8TE b","m":-0.3,"p":0},{"y":"TSLP","x":"CD8T r","m":-0.3,"p":0},{"y":"TSLP","x":"CD8T b","m":-0.3,"p":0},{"y":"TSLP","x":"CD4 r","m":-0.3,"p":0},{"y":"TSLP","x":"CD4 b","m":-0.3,"p":0},{"y":"TSLP","x":"gdT r","m":-0.3,"p":0},{"y":"TSLP","x":"gdT b","m":-0.3,"p":0},{"y":"TSLP","x":"Treg r","m":-0.3,"p":0},{"y":"TSLP","x":"Treg b","m":-0.3,"p":0},{"y":"TSLP","x":"NK r","m":-0.3,"p":0},{"y":"TSLP","x":"NK b","m":-0.3,"p":0},{"y":"TSLP","x":"ILC r","m":-0.3,"p":0},{"y":"TSLP","x":"ILC b","m":-0.3,"p":0}
],
"m4H":[
{"y":"IFN","x":"CD8TTE r","m":null,"p":2.5},{"y":"IFN","x":"CD8TTE b","m":-0.3,"p":0},{"y":"IFN","x":"CD8TE r","m":null,"p":2.5},{"y":"IFN","x":"CD8TE b","m":-0.3,"p":0},{"y":"IFN","x":"CD8T r","m":-1.8,"p":0},{"y":"IFN","x":"CD8T b","m":-0.3,"p":0},{"y":"IFN","x":"CD4 r","m":-0.3,"p":0},{"y":"IFN","x":"CD4 b","m":-0.3,"p":0},{"y":"IFN","x":"gdT r","m":-0.3,"p":0},{"y":"IFN","x":"gdT b","m":-0.3,"p":0},{"y":"IFN","x":"Treg r","m":-1.8,"p":0},{"y":"IFN","x":"Treg b","m":-0.3,"p":0},{"y":"IFN","x":"NK r","m":null,"p":2.5},{"y":"IFN","x":"NK b","m":-0.3,"p":0},{"y":"IFN","x":"ILC r","m":-0.3,"p":0},{"y":"IFN","x":"ILC b","m":-0.3,"p":0},
{"y":"CXCR6","x":"CD8TTE r","m":null,"p":1},{"y":"CXCR6","x":"CD8TTE b","m":-1.8,"p":0},{"y":"CXCR6","x":"CD8TE r","m":null,"p":2.5},{"y":"CXCR6","x":"CD8TE b","m":-4.5,"p":0},{"y":"CXCR6","x":"CD8T r","m":-0.3,"p":0},{"y":"CXCR6","x":"CD8T b","m":-4.5,"p":0},{"y":"CXCR6","x":"CD4 r","m":-2.7,"p":0},{"y":"CXCR6","x":"CD4 b","m":-4.5,"p":0},{"y":"CXCR6","x":"gdT r","m":null,"p":2.5},{"y":"CXCR6","x":"gdT b","m":-4.5,"p":0},{"y":"CXCR6","x":"Treg r","m":null,"p":2.5},{"y":"CXCR6","x":"Treg b","m":-4.5,"p":0},{"y":"CXCR6","x":"NK r","m":-2.7,"p":0},{"y":"CXCR6","x":"NK b","m":-4.5,"p":0},{"y":"CXCR6","x":"ILC r","m":null,"p":2.5},{"y":"CXCR6","x":"ILC b","m":-4.5,"p":0},
{"y":"CCR2","x":"CD8TTE r","m":-0.3,"p":0},{"y":"CCR2","x":"CD8TTE b","m":-0.3,"p":0},{"y":"CCR2","x":"CD8TE r","m":-0.3,"p":0},{"y":"CCR2","x":"CD8TE b","m":-0.3,"p":0},{"y":"CCR2","x":"CD8T r","m":-1.8,"p":0},{"y":"CCR2","x":"CD8T b","m":-1.8,"p":0},{"y":"CCR2","x":"CD4 r","m":-1.8,"p":0},{"y":"CCR2","x":"CD4 b","m":-0.3,"p":0},{"y":"CCR2","x":"gdT r","m":null,"p":0},{"y":"CCR2","x":"gdT b","m":-0.3,"p":0},{"y":"CCR2","x":"Treg r","m":null,"p":0},{"y":"CCR2","x":"Treg b","m":-0.3,"p":0},{"y":"CCR2","x":"NK r","m":null,"p":0},{"y":"CCR2","x":"NK b","m":-0.3,"p":0},{"y":"CCR2","x":"ILC r","m":null,"p":0},{"y":"CCR2","x":"ILC b","m":-0.3,"p":0},
{"y":"TSLP","x":"CD8TTE r","m":-0.3,"p":0},{"y":"TSLP","x":"CD8TTE b","m":-1.8,"p":0},{"y":"TSLP","x":"CD8TE r","m":-0.3,"p":0},{"y":"TSLP","x":"CD8TE b","m":-0.6,"p":2},{"y":"TSLP","x":"CD8T r","m":null,"p":0},{"y":"TSLP","x":"CD8T b","m":-1.8,"p":0},{"y":"TSLP","x":"CD4 r","m":-0.3,"p":0},{"y":"TSLP","x":"CD4 b","m":-1.8,"p":0},{"y":"TSLP","x":"gdT r","m":-0.3,"p":0},{"y":"TSLP","x":"gdT b","m":-0.3,"p":2},{"y":"TSLP","x":"Treg r","m":-0.3,"p":0},{"y":"TSLP","x":"Treg b","m":-0.4,"p":2},{"y":"TSLP","x":"NK r","m":null,"p":0},{"y":"TSLP","x":"NK b","m":null,"p":2.5},{"y":"TSLP","x":"ILC r","m":-0.3,"p":0},{"y":"TSLP","x":"ILC b","m":-0.5,"p":2}
],
"m8H":[
{"y":"IFN","x":"CD8TTE r","m":null,"p":2.5},{"y":"IFN","x":"CD8TTE b","m":-0.3,"p":0},{"y":"IFN","x":"CD8TE r","m":-0.4,"p":2},{"y":"IFN","x":"CD8TE b","m":-0.3,"p":0},{"y":"IFN","x":"CD8T r","m":-2.7,"p":0},{"y":"IFN","x":"CD8T b","m":-0.3,"p":0},{"y":"IFN","x":"CD4 r","m":-0.3,"p":0},{"y":"IFN","x":"CD4 b","m":-0.3,"p":0},{"y":"IFN","x":"gdT r","m":-0.3,"p":0},{"y":"IFN","x":"gdT b","m":-0.3,"p":0},{"y":"IFN","x":"Treg r","m":-0.5,"p":1.8},{"y":"IFN","x":"Treg b","m":-0.3,"p":0},{"y":"IFN","x":"NK r","m":null,"p":2.5},{"y":"IFN","x":"NK b","m":-0.3,"p":0},{"y":"IFN","x":"ILC r","m":-1.8,"p":0},{"y":"IFN","x":"ILC b","m":-0.3,"p":0},
{"y":"CXCR6","x":"CD8TTE r","m":-2.7,"p":0},{"y":"CXCR6","x":"CD8TTE b","m":-4.5,"p":0},{"y":"CXCR6","x":"CD8TE r","m":-0.3,"p":0},{"y":"CXCR6","x":"CD8TE b","m":-4.5,"p":0},{"y":"CXCR6","x":"CD8T r","m":-2.7,"p":0},{"y":"CXCR6","x":"CD8T b","m":-4.5,"p":0},{"y":"CXCR6","x":"CD4 r","m":-2.7,"p":0},{"y":"CXCR6","x":"CD4 b","m":-4.5,"p":0},{"y":"CXCR6","x":"gdT r","m":null,"p":0},{"y":"CXCR6","x":"gdT b","m":-4.5,"p":0},{"y":"CXCR6","x":"Treg r","m":-0.3,"p":0},{"y":"CXCR6","x":"Treg b","m":-4.5,"p":0},{"y":"CXCR6","x":"NK r","m":-2.7,"p":0},{"y":"CXCR6","x":"NK b","m":-4.5,"p":0},{"y":"CXCR6","x":"ILC r","m":null,"p":0},{"y":"CXCR6","x":"ILC b","m":-0.3,"p":0},
{"y":"CCR2","x":"CD8TTE r","m":-2.7,"p":0},{"y":"CCR2","x":"CD8TTE b","m":-0.3,"p":0},{"y":"CCR2","x":"CD8TE r","m":-0.3,"p":0},{"y":"CCR2","x":"CD8TE b","m":-0.3,"p":0},{"y":"CCR2","x":"CD8T r","m":null,"p":0},{"y":"CCR2","x":"CD8T b","m":-4.5,"p":0},{"y":"CCR2","x":"CD4 r","m":-2.7,"p":0},{"y":"CCR2","x":"CD4 b","m":-0.3,"p":0},{"y":"CCR2","x":"gdT r","m":null,"p":0},{"y":"CCR2","x":"gdT b","m":-0.3,"p":0},{"y":"CCR2","x":"Treg r","m":-0.3,"p":0},{"y":"CCR2","x":"Treg b","m":-0.3,"p":0},{"y":"CCR2","x":"NK r","m":-0.3,"p":0},{"y":"CCR2","x":"NK b","m":-0.3,"p":0},{"y":"CCR2","x":"ILC r","m":null,"p":0},{"y":"CCR2","x":"ILC b","m":-0.3,"p":0},
{"y":"TSLP","x":"CD8TTE r","m":-0.3,"p":0},{"y":"TSLP","x":"CD8TTE b","m":-2.7,"p":0},{"y":"TSLP","x":"CD8TE r","m":-0.3,"p":0},{"y":"TSLP","x":"CD8TE b","m":null,"p":0},{"y":"TSLP","x":"CD8T r","m":-4.5,"p":0},{"y":"TSLP","x":"CD8T b","m":null,"p":0},{"y":"TSLP","x":"CD4 r","m":-4.5,"p":0},{"y":"TSLP","x":"CD4 b","m":-0.3,"p":0},{"y":"TSLP","x":"gdT r","m":null,"p":0},{"y":"TSLP","x":"gdT b","m":-4.5,"p":0},{"y":"TSLP","x":"Treg r","m":-0.3,"p":0},{"y":"TSLP","x":"Treg b","m":null,"p":0},{"y":"TSLP","x":"NK r","m":-0.3,"p":0},{"y":"TSLP","x":"NK b","m":-1.8,"p":0},{"y":"TSLP","x":"ILC r","m":-0.3,"p":0},{"y":"TSLP","x":"ILC b","m":null,"p":0}
],
"m11H":[
{"y":"IFN","x":"CD8TTE r","m":null,"p":2.5},{"y":"IFN","x":"CD8TTE b","m":-0.3,"p":0},{"y":"IFN","x":"CD8TE r","m":null,"p":2.5},{"y":"IFN","x":"CD8TE b","m":-0.3,"p":0},{"y":"IFN","x":"CD8T r","m":-0.3,"p":0},{"y":"IFN","x":"CD8T b","m":-0.3,"p":0},{"y":"IFN","x":"CD4 r","m":-0.3,"p":0},{"y":"IFN","x":"CD4 b","m":-0.3,"p":0},{"y":"IFN","x":"gdT r","m":-2.7,"p":0},{"y":"IFN","x":"gdT b","m":-0.3,"p":0},{"y":"IFN","x":"Treg r","m":null,"p":2.5},{"y":"IFN","x":"Treg b","m":-0.3,"p":0},{"y":"IFN","x":"NK r","m":-0.1,"p":2},{"y":"IFN","x":"NK b","m":-0.3,"p":0},{"y":"IFN","x":"ILC r","m":-0.3,"p":0},{"y":"IFN","x":"ILC b","m":-0.3,"p":0},
{"y":"CXCR6","x":"CD8TTE r","m":null,"p":1},{"y":"CXCR6","x":"CD8TTE b","m":-0.3,"p":0},{"y":"CXCR6","x":"CD8TE r","m":null,"p":2.5},{"y":"CXCR6","x":"CD8TE b","m":-0.3,"p":0},{"y":"CXCR6","x":"CD8T r","m":-1.8,"p":0},{"y":"CXCR6","x":"CD8T b","m":-0.3,"p":0},{"y":"CXCR6","x":"CD4 r","m":-2.7,"p":0},{"y":"CXCR6","x":"CD4 b","m":-0.3,"p":0},{"y":"CXCR6","x":"gdT r","m":null,"p":2.5},{"y":"CXCR6","x":"gdT b","m":-0.3,"p":0},{"y":"CXCR6","x":"Treg r","m":null,"p":2.5},{"y":"CXCR6","x":"Treg b","m":-0.3,"p":0},{"y":"CXCR6","x":"NK r","m":-2.7,"p":0},{"y":"CXCR6","x":"NK b","m":-0.3,"p":0},{"y":"CXCR6","x":"ILC r","m":null,"p":2.5},{"y":"CXCR6","x":"ILC b","m":-0.3,"p":0},
{"y":"CCR2","x":"CD8TTE r","m":null,"p":0},{"y":"CCR2","x":"CD8TTE b","m":-0.3,"p":0},{"y":"CCR2","x":"CD8TE r","m":null,"p":0},{"y":"CCR2","x":"CD8TE b","m":-0.3,"p":0},{"y":"CCR2","x":"CD8T r","m":-0.3,"p":0},{"y":"CCR2","x":"CD8T b","m":-0.3,"p":0},{"y":"CCR2","x":"CD4 r","m":-0.3,"p":0},{"y":"CCR2","x":"CD4 b","m":-0.3,"p":0},{"y":"CCR2","x":"gdT r","m":null,"p":0},{"y":"CCR2","x":"gdT b","m":-0.3,"p":0},{"y":"CCR2","x":"Treg r","m":null,"p":0},{"y":"CCR2","x":"Treg b","m":-0.3,"p":0},{"y":"CCR2","x":"NK r","m":null,"p":0},{"y":"CCR2","x":"NK b","m":-0.3,"p":0},{"y":"CCR2","x":"ILC r","m":null,"p":0},{"y":"CCR2","x":"ILC b","m":-0.3,"p":0},
{"y":"TSLP","x":"CD8TTE r","m":-0.3,"p":0},{"y":"TSLP","x":"CD8TTE b","m":-1.8,"p":0},{"y":"TSLP","x":"CD8TE r","m":-0.3,"p":0},{"y":"TSLP","x":"CD8TE b","m":-1.8,"p":0},{"y":"TSLP","x":"CD8T r","m":-0.3,"p":0},{"y":"TSLP","x":"CD8T b","m":-2.7,"p":0},{"y":"TSLP","x":"CD4 r","m":-0.3,"p":0},{"y":"TSLP","x":"CD4 b","m":-1.8,"p":0},{"y":"TSLP","x":"gdT r","m":-0.3,"p":0},{"y":"TSLP","x":"gdT b","m":-1.8,"p":0},{"y":"TSLP","x":"Treg r","m":-0.3,"p":0},{"y":"TSLP","x":"Treg b","m":-1.8,"p":0},{"y":"TSLP","x":"NK r","m":-0.3,"p":0},{"y":"TSLP","x":"NK b","m":-1.8,"p":0},{"y":"TSLP","x":"ILC r","m":-0.3,"p":0},{"y":"TSLP","x":"ILC b","m":-0.3,"p":0}
]
},
"resolve":{"scale":{"color":"independent","fill":"independent","size":"independent"}},
"spacing":37,
"vconcat":[
{"hconcat":[
 {"width":27,"height":241,"data":{"values":[{}]},"mark":"text","encoding":{"text":{"value":""}},"title":{"text":"A","anchor":"start","fontWeight":"bold","fontSize":14,"color":"black"}},
 {"width":289,"height":241,"title":"4m","layer":[
  {"data":{"name":"h4"},"mark":{"type":"rect","stroke":"white","strokeWidth":0.6},"encoding":{
   "x":{"field":"c","type":"nominal","scale":{"domain":["AE","Ciliated","Endo","AM","IM","MonoC","MonoNC","DC","Neutrophil","B","CD4T","gdT","NK","Treg","ILC","CD8TTE","CD8TE","CD8T","Fibroblast"]},"axis":{"labelAngle":90,"ticks":false,"domain":false,"title":null,"labelFontSize":9,"labelPadding":3}},
   "y":{"field":"r","type":"nominal","scale":{"domain":["AE","Ciliated","Endo","AM","IM","MonoC","MonoNC","DC","Neutrophil","B","CD4T","gdT","NK","Treg","ILC","CD8TTE","CD8TE","CD8T","Fibroblast"]},"axis":null},
   "color":{"field":"v","type":"quantitative","scale":{"domain":[-2,0,4,8,11,15,18,22,28,34,45,65,70,72],"range":["#134a8f","#134a8f","#2c5b97","#5a78a0","#8890a6","#aaa6aa","#cbbcb2","#f5d3b6","#e0a3a5","#cf7d90","#b04a72","#8e1350","#8a0f4e","#8a0f4e"]},"legend":{"orient":"none","legendX":704,"legendY":33,"title":["Number of","differential","interactions"],"titleFontSize":11.5,"titlePadding":16,"titleLineHeight":14,"gradientLength":74,"gradientThickness":5,"values":[0,10,20,30,40,50,60,70],"labelFontSize":9.5,"labelOffset":2}}}},
  {"data":{"values":[{"c":"CD8TTE"}]},"mark":{"type":"rule","color":"white","strokeWidth":2.5},"encoding":{"x":{"field":"c","type":"nominal","bandPosition":0,"axis":{"labelAngle":90,"ticks":false,"domain":false,"title":null,"labelFontSize":9,"labelPadding":3}}}},
  {"data":{"values":[{"r":"CD8TTE"}]},"mark":{"type":"rule","color":"white","strokeWidth":2.5},"encoding":{"y":{"field":"r","type":"nominal","bandPosition":0,"axis":null}}}
 ]},
 {"width":290,"height":241,"title":"8m","layer":[
  {"data":{"name":"h8"},"mark":{"type":"rect","stroke":"white","strokeWidth":0.6},"encoding":{
   "x":{"field":"c","type":"nominal","scale":{"domain":["AE","Ciliated","Endo","AM","IM","MonoC","MonoNC","DC","Neutrophil","B","CD4T","gdT","NK","Treg","ILC","CD8TTE","CD8TE","CD8T","Fibroblast"]},"axis":{"labelAngle":90,"ticks":false,"domain":false,"title":null,"labelFontSize":9,"labelPadding":3}},
   "y":{"field":"r","type":"nominal","scale":{"domain":["AE","Ciliated","Endo","AM","IM","MonoC","MonoNC","DC","Neutrophil","B","CD4T","gdT","NK","Treg","ILC","CD8TTE","CD8TE","CD8T","Fibroblast"]},"axis":{"orient":"right","ticks":false,"domain":false,"title":null,"labelFontSize":9,"labelPadding":3}},
   "color":{"field":"v","type":"quantitative","scale":{"domain":[-2,0,4,8,11,15,18,22,28,34,45,65,70,72],"range":["#134a8f","#134a8f","#2c5b97","#5a78a0","#8890a6","#aaa6aa","#cbbcb2","#f5d3b6","#e0a3a5","#cf7d90","#b04a72","#8e1350","#8a0f4e","#8a0f4e"]},"legend":{"orient":"none","legendX":704,"legendY":33,"title":["Number of","differential","interactions"],"titleFontSize":11.5,"titlePadding":16,"titleLineHeight":14,"gradientLength":74,"gradientThickness":5,"values":[0,10,20,30,40,50,60,70],"labelFontSize":9.5,"labelOffset":2}}}},
  {"data":{"values":[{"c":"CD8TTE"}]},"mark":{"type":"rule","color":"white","strokeWidth":2.5},"encoding":{"x":{"field":"c","type":"nominal","bandPosition":0,"axis":{"labelAngle":90,"ticks":false,"domain":false,"title":null,"labelFontSize":9,"labelPadding":3}}}},
  {"data":{"values":[{"r":"CD8TTE"}]},"mark":{"type":"rule","color":"white","strokeWidth":2.5},"encoding":{"y":{"field":"r","type":"nominal","bandPosition":0,"axis":{"orient":"right","ticks":false,"domain":false,"title":null,"labelFontSize":9,"labelPadding":3}}}}
 ]}
],"spacing":17},
{"vconcat":[
 {"concat":[
  {"width":90,"height":18,"title":{"text":"B","anchor":"start","fontWeight":"bold","fontSize":14,"color":"black","offset":16},"data":{"values":[{"full":"Ligand-Receptor","rec":"-Receptor"}]},"layer":[
   {"mark":{"type":"text","align":"right","color":"#4b7bd8","fontSize":11.5},"encoding":{"x":{"value":"width"},"text":{"field":"full"}}},
   {"mark":{"type":"text","align":"right","color":"#b83563","fontSize":11.5},"encoding":{"x":{"value":"width"},"text":{"field":"rec"}}}]},
  {"width":161,"height":18,"view":{"fill":"#d9d9d9","stroke":"#8a8a8a"},"data":{"values":[{"t":"p15"}]},"mark":{"type":"text","fontSize":12,"color":"#1a1a1a"},"encoding":{"text":{"field":"t"}}},
  {"width":161,"height":18,"view":{"fill":"#d9d9d9","stroke":"#8a8a8a"},"data":{"values":[{"t":"4m"}]},"mark":{"type":"text","fontSize":12,"color":"#1a1a1a"},"encoding":{"text":{"field":"t"}}},
  {"width":161,"height":18,"view":{"fill":"#d9d9d9","stroke":"#8a8a8a"},"data":{"values":[{"t":"8m"}]},"mark":{"type":"text","fontSize":12,"color":"#1a1a1a"},"encoding":{"text":{"field":"t"}}},
  {"width":161,"height":18,"view":{"fill":"#d9d9d9","stroke":"#8a8a8a"},"data":{"values":[{"t":"11m"}]},"mark":{"type":"text","fontSize":12,"color":"#1a1a1a"},"encoding":{"text":{"field":"t"}}},
  {"width":14,"height":18,"data":{"values":[{}]},"mark":"text","encoding":{"text":{"value":""}}},

  {"width":90,"height":149,"data":{"name":"lrs"},"layer":[
   {"mark":{"type":"text","align":"right","color":"#4b7bd8","fontSize":11.5},"encoding":{"y":{"field":"y","type":"nominal","scale":{"domain":["IFN","CXCR6","CCR2","TSLP"],"paddingInner":0.556,"paddingOuter":0.333},"axis":null},"x":{"value":"width"},"text":{"field":"full"}}},
   {"mark":{"type":"text","align":"right","color":"#b83563","fontSize":11.5},"encoding":{"y":{"field":"y","type":"nominal","scale":{"domain":["IFN","CXCR6","CCR2","TSLP"],"paddingInner":0.556,"paddingOuter":0.333},"axis":null},"x":{"value":"width"},"text":{"field":"rec"}}}]},
  {"width":161,"height":149,"view":{"stroke":"#8a8a8a"},"data":{"name":"p15W"},"mark":{"type":"circle","opacity":1,"fill":"black","invalid":"show"},"encoding":{
   "x":{"field":"x","type":"nominal","scale":{"domain":["CD8TTE r","CD8TTE b","CD8TE r","CD8TE b","CD8T r","CD8T b","CD4 r","CD4 b","gdT r","gdT b","Treg r","Treg b","NK r","NK b","ILC r","ILC b"],"paddingInner":0,"paddingOuter":0.1},"axis":null},
   "y":{"field":"y","type":"nominal","scale":{"domain":["IFN","CXCR6","CCR2","TSLP"],"paddingInner":0.556,"paddingOuter":0.333},"axis":{"labels":false,"ticks":true,"tickSize":3,"tickColor":"#333","domain":false,"title":null}},
   "fill":{"field":"m","type":"quantitative","scale":{"domain":[-6,-5,-4,-3.3,-2.7,-1.5,0],"range":["#000008","#132f66","#3467aa","#c3cbd8","#f1cfb3","#cf7a90","#8c0c4c"]},"legend":{"orient":"none","legendX":261,"legendY":-34,"direction":"horizontal","titleOrient":"left","gradientLength":53,"gradientThickness":10,"values":[-6,-5,-4,-3,-2,-1,0],"labelFontSize":6.5,"labelOffset":1,"title":["Log2 mean","(Molecule 1, Molecule 2)"],"titleFontSize":9.5,"titlePadding":2,"titleLimit":200}},
   "size":{"field":"p","type":"quantitative","scale":{"domain":[0,3],"range":[7,80]},"legend":{"orient":"none","legendX":438,"legendY":-31,"direction":"horizontal","titleOrient":"left","values":[0,1,2,3],"format":"d","labelFontSize":7,"title":"−log10(pval)","titleFontSize":8.5,"titlePadding":8,"columnPadding":6,"symbolStrokeWidth":0,"symbolOpacity":1}}}},
  {"width":161,"height":149,"view":{"stroke":"#8a8a8a"},"layer":[
   {"data":{"name":"m4W"},"mark":{"type":"circle","opacity":1,"fill":"black","invalid":"show"},"encoding":{
    "x":{"field":"x","type":"nominal","scale":{"domain":["CD8TTE r","CD8TTE b","CD8TE r","CD8TE b","CD8T r","CD8T b","CD4 r","CD4 b","gdT r","gdT b","Treg r","Treg b","NK r","NK b","ILC r","ILC b"],"paddingInner":0,"paddingOuter":0.1},"axis":null},
    "y":{"field":"y","type":"nominal","scale":{"domain":["IFN","CXCR6","CCR2","TSLP"],"paddingInner":0.556,"paddingOuter":0.333},"axis":null},
    "fill":{"field":"m","type":"quantitative","scale":{"domain":[-6,-5,-4,-3.3,-2.7,-1.5,0],"range":["#000008","#132f66","#3467aa","#c3cbd8","#f1cfb3","#cf7a90","#8c0c4c"]},"legend":{"orient":"none","legendX":261,"legendY":-34,"direction":"horizontal","titleOrient":"left","gradientLength":53,"gradientThickness":10,"values":[-6,-5,-4,-3,-2,-1,0],"labelFontSize":6.5,"labelOffset":1,"title":["Log2 mean","(Molecule 1, Molecule 2)"],"titleFontSize":9.5,"titlePadding":2,"titleLimit":200}},
    "size":{"field":"p","type":"quantitative","scale":{"domain":[0,3],"range":[7,80]},"legend":{"orient":"none","legendX":438,"legendY":-31,"direction":"horizontal","titleOrient":"left","values":[0,1,2,3],"format":"d","labelFontSize":7,"title":"−log10(pval)","titleFontSize":8.5,"titlePadding":8,"columnPadding":6,"symbolStrokeWidth":0,"symbolOpacity":1}}}},
   {"data":{"values":[{"y":"CCR2","b0":"CD8TE r","b1":"CD8TE r"}]},"mark":{"type":"rect","filled":false,"color":"black","strokeWidth":1.4},"encoding":{
    "x":{"field":"b0","type":"nominal","bandPosition":-0.2,"scale":{"domain":["CD8TTE r","CD8TTE b","CD8TE r","CD8TE b","CD8T r","CD8T b","CD4 r","CD4 b","gdT r","gdT b","Treg r","Treg b","NK r","NK b","ILC r","ILC b"],"paddingInner":0,"paddingOuter":0.1},"axis":null},
    "x2":{"field":"b1","bandPosition":1.2},
    "y":{"field":"y","type":"nominal","scale":{"domain":["IFN","CXCR6","CCR2","TSLP"],"paddingInner":0.556,"paddingOuter":0.333},"axis":null}}}]},
  {"width":161,"height":149,"view":{"stroke":"#8a8a8a"},"data":{"name":"m8W"},"mark":{"type":"circle","opacity":1,"fill":"black","invalid":"show"},"encoding":{
   "x":{"field":"x","type":"nominal","scale":{"domain":["CD8TTE r","CD8TTE b","CD8TE r","CD8TE b","CD8T r","CD8T b","CD4 r","CD4 b","gdT r","gdT b","Treg r","Treg b","NK r","NK b","ILC r","ILC b"],"paddingInner":0,"paddingOuter":0.1},"axis":null},
   "y":{"field":"y","type":"nominal","scale":{"domain":["IFN","CXCR6","CCR2","TSLP"],"paddingInner":0.556,"paddingOuter":0.333},"axis":null},
   "fill":{"field":"m","type":"quantitative","scale":{"domain":[-6,-5,-4,-3.3,-2.7,-1.5,0],"range":["#000008","#132f66","#3467aa","#c3cbd8","#f1cfb3","#cf7a90","#8c0c4c"]},"legend":{"orient":"none","legendX":261,"legendY":-34,"direction":"horizontal","titleOrient":"left","gradientLength":53,"gradientThickness":10,"values":[-6,-5,-4,-3,-2,-1,0],"labelFontSize":6.5,"labelOffset":1,"title":["Log2 mean","(Molecule 1, Molecule 2)"],"titleFontSize":9.5,"titlePadding":2,"titleLimit":200}},
   "size":{"field":"p","type":"quantitative","scale":{"domain":[0,3],"range":[7,80]},"legend":{"orient":"none","legendX":438,"legendY":-31,"direction":"horizontal","titleOrient":"left","values":[0,1,2,3],"format":"d","labelFontSize":7,"title":"−log10(pval)","titleFontSize":8.5,"titlePadding":8,"columnPadding":6,"symbolStrokeWidth":0,"symbolOpacity":1}}}},
  {"width":161,"height":149,"view":{"stroke":"#8a8a8a"},"layer":[
   {"data":{"name":"m11W"},"mark":{"type":"circle","opacity":1,"fill":"black","invalid":"show"},"encoding":{
    "x":{"field":"x","type":"nominal","scale":{"domain":["CD8TTE r","CD8TTE b","CD8TE r","CD8TE b","CD8T r","CD8T b","CD4 r","CD4 b","gdT r","gdT b","Treg r","Treg b","NK r","NK b","ILC r","ILC b"],"paddingInner":0,"paddingOuter":0.1},"axis":null},
    "y":{"field":"y","type":"nominal","scale":{"domain":["IFN","CXCR6","CCR2","TSLP"],"paddingInner":0.556,"paddingOuter":0.333},"axis":null},
    "fill":{"field":"m","type":"quantitative","scale":{"domain":[-6,-5,-4,-3.3,-2.7,-1.5,0],"range":["#000008","#132f66","#3467aa","#c3cbd8","#f1cfb3","#cf7a90","#8c0c4c"]},"legend":{"orient":"none","legendX":261,"legendY":-34,"direction":"horizontal","titleOrient":"left","gradientLength":53,"gradientThickness":10,"values":[-6,-5,-4,-3,-2,-1,0],"labelFontSize":6.5,"labelOffset":1,"title":["Log2 mean","(Molecule 1, Molecule 2)"],"titleFontSize":9.5,"titlePadding":2,"titleLimit":200}},
    "size":{"field":"p","type":"quantitative","scale":{"domain":[0,3],"range":[7,80]},"legend":{"orient":"none","legendX":438,"legendY":-31,"direction":"horizontal","titleOrient":"left","values":[0,1,2,3],"format":"d","labelFontSize":7,"title":"−log10(pval)","titleFontSize":8.5,"titlePadding":8,"columnPadding":6,"symbolStrokeWidth":0,"symbolOpacity":1}}}},
   {"data":{"values":[{"y":"TSLP","b0":"CD8TTE b","b1":"CD8TE b"}]},"mark":{"type":"rect","filled":false,"color":"black","strokeWidth":1.4},"encoding":{
    "x":{"field":"b0","type":"nominal","bandPosition":-0.2,"scale":{"domain":["CD8TTE r","CD8TTE b","CD8TE r","CD8TE b","CD8T r","CD8T b","CD4 r","CD4 b","gdT r","gdT b","Treg r","Treg b","NK r","NK b","ILC r","ILC b"],"paddingInner":0,"paddingOuter":0.1},"axis":null},
    "x2":{"field":"b1","bandPosition":1.2},
    "y":{"field":"y","type":"nominal","scale":{"domain":["IFN","CXCR6","CCR2","TSLP"],"paddingInner":0.556,"paddingOuter":0.333},"axis":null}}}]},
  {"width":14,"height":149,"view":{"fill":"#d9d9d9","stroke":"#8a8a8a"},"data":{"values":[{"g":"Wt"}]},"mark":{"type":"text","angle":90,"fontSize":11.5,"color":"#1a1a1a"},"encoding":{"text":{"field":"g"}}},

  {"width":90,"height":149,"data":{"name":"lrs"},"layer":[
   {"mark":{"type":"text","align":"right","color":"#4b7bd8","fontSize":11.5},"encoding":{"y":{"field":"y","type":"nominal","scale":{"domain":["IFN","CXCR6","CCR2","TSLP"],"paddingInner":0.556,"paddingOuter":0.333},"axis":null},"x":{"value":"width"},"text":{"field":"full"}}},
   {"mark":{"type":"text","align":"right","color":"#b83563","fontSize":11.5},"encoding":{"y":{"field":"y","type":"nominal","scale":{"domain":["IFN","CXCR6","CCR2","TSLP"],"paddingInner":0.556,"paddingOuter":0.333},"axis":null},"x":{"value":"width"},"text":{"field":"rec"}}}]},
  {"width":161,"height":149,"view":{"stroke":"#8a8a8a"},"data":{"name":"p15H"},"mark":{"type":"circle","opacity":1,"fill":"black","invalid":"show"},"encoding":{
   "x":{"field":"x","type":"nominal","scale":{"domain":["CD8TTE r","CD8TTE b","CD8TE r","CD8TE b","CD8T r","CD8T b","CD4 r","CD4 b","gdT r","gdT b","Treg r","Treg b","NK r","NK b","ILC r","ILC b"],"paddingInner":0,"paddingOuter":0.1},"axis":{"labelAngle":-90,"labelExpr":"split(datum.value,' ')[0]","labelColor":{"condition":{"test":"indexof(datum.value,' b')>0","value":"#4b7bd8"},"value":"#b83563"},"labelFontSize":11,"ticks":true,"tickSize":3,"tickColor":"#333","domain":false,"title":null,"labelPadding":2}},
   "y":{"field":"y","type":"nominal","scale":{"domain":["IFN","CXCR6","CCR2","TSLP"],"paddingInner":0.556,"paddingOuter":0.333},"axis":{"labels":false,"ticks":true,"tickSize":3,"tickColor":"#333","domain":false,"title":null}},
   "fill":{"field":"m","type":"quantitative","scale":{"domain":[-6,-5,-4,-3.3,-2.7,-1.5,0],"range":["#000008","#132f66","#3467aa","#c3cbd8","#f1cfb3","#cf7a90","#8c0c4c"]},"legend":{"orient":"none","legendX":261,"legendY":-34,"direction":"horizontal","titleOrient":"left","gradientLength":53,"gradientThickness":10,"values":[-6,-5,-4,-3,-2,-1,0],"labelFontSize":6.5,"labelOffset":1,"title":["Log2 mean","(Molecule 1, Molecule 2)"],"titleFontSize":9.5,"titlePadding":2,"titleLimit":200}},
   "size":{"field":"p","type":"quantitative","scale":{"domain":[0,3],"range":[7,80]},"legend":{"orient":"none","legendX":438,"legendY":-31,"direction":"horizontal","titleOrient":"left","values":[0,1,2,3],"format":"d","labelFontSize":7,"title":"−log10(pval)","titleFontSize":8.5,"titlePadding":8,"columnPadding":6,"symbolStrokeWidth":0,"symbolOpacity":1}}}},
  {"width":161,"height":149,"view":{"stroke":"#8a8a8a"},"layer":[
   {"data":{"name":"m4H"},"mark":{"type":"circle","opacity":1,"fill":"black","invalid":"show"},"encoding":{
    "x":{"field":"x","type":"nominal","scale":{"domain":["CD8TTE r","CD8TTE b","CD8TE r","CD8TE b","CD8T r","CD8T b","CD4 r","CD4 b","gdT r","gdT b","Treg r","Treg b","NK r","NK b","ILC r","ILC b"],"paddingInner":0,"paddingOuter":0.1},"axis":{"labelAngle":-90,"labelExpr":"split(datum.value,' ')[0]","labelColor":{"condition":{"test":"indexof(datum.value,' b')>0","value":"#4b7bd8"},"value":"#b83563"},"labelFontSize":11,"ticks":true,"tickSize":3,"tickColor":"#333","domain":false,"title":null,"labelPadding":2}},
    "y":{"field":"y","type":"nominal","scale":{"domain":["IFN","CXCR6","CCR2","TSLP"],"paddingInner":0.556,"paddingOuter":0.333},"axis":null},
    "fill":{"field":"m","type":"quantitative","scale":{"domain":[-6,-5,-4,-3.3,-2.7,-1.5,0],"range":["#000008","#132f66","#3467aa","#c3cbd8","#f1cfb3","#cf7a90","#8c0c4c"]},"legend":{"orient":"none","legendX":261,"legendY":-34,"direction":"horizontal","titleOrient":"left","gradientLength":53,"gradientThickness":10,"values":[-6,-5,-4,-3,-2,-1,0],"labelFontSize":6.5,"labelOffset":1,"title":["Log2 mean","(Molecule 1, Molecule 2)"],"titleFontSize":9.5,"titlePadding":2,"titleLimit":200}},
    "size":{"field":"p","type":"quantitative","scale":{"domain":[0,3],"range":[7,80]},"legend":{"orient":"none","legendX":438,"legendY":-31,"direction":"horizontal","titleOrient":"left","values":[0,1,2,3],"format":"d","labelFontSize":7,"title":"−log10(pval)","titleFontSize":8.5,"titlePadding":8,"columnPadding":6,"symbolStrokeWidth":0,"symbolOpacity":1}}}},
   {"data":{"values":[{"y":"IFN","b0":"CD8TTE r","b1":"CD8TE r"},{"y":"CXCR6","b0":"CD8TTE r","b1":"CD8TE r"}]},"mark":{"type":"rect","filled":false,"color":"black","strokeWidth":1.4},"encoding":{
    "x":{"field":"b0","type":"nominal","bandPosition":-0.05,"scale":{"domain":["CD8TTE r","CD8TTE b","CD8TE r","CD8TE b","CD8T r","CD8T b","CD4 r","CD4 b","gdT r","gdT b","Treg r","Treg b","NK r","NK b","ILC r","ILC b"],"paddingInner":0,"paddingOuter":0.1},"axis":{"labelAngle":-90,"labelExpr":"split(datum.value,' ')[0]","labelColor":{"condition":{"test":"indexof(datum.value,' b')>0","value":"#4b7bd8"},"value":"#b83563"},"labelFontSize":11,"ticks":true,"tickSize":3,"tickColor":"#333","domain":false,"title":null,"labelPadding":2}},
    "x2":{"field":"b1","bandPosition":1.15},
    "y":{"field":"y","type":"nominal","scale":{"domain":["IFN","CXCR6","CCR2","TSLP"],"paddingInner":0.556,"paddingOuter":0.333},"axis":null}}}]},
  {"width":161,"height":149,"view":{"stroke":"#8a8a8a"},"layer":[
   {"data":{"name":"m8H"},"mark":{"type":"circle","opacity":1,"fill":"black","invalid":"show"},"encoding":{
    "x":{"field":"x","type":"nominal","scale":{"domain":["CD8TTE r","CD8TTE b","CD8TE r","CD8TE b","CD8T r","CD8T b","CD4 r","CD4 b","gdT r","gdT b","Treg r","Treg b","NK r","NK b","ILC r","ILC b"],"paddingInner":0,"paddingOuter":0.1},"axis":{"labelAngle":-90,"labelExpr":"split(datum.value,' ')[0]","labelColor":{"condition":{"test":"indexof(datum.value,' b')>0","value":"#4b7bd8"},"value":"#b83563"},"labelFontSize":11,"ticks":true,"tickSize":3,"tickColor":"#333","domain":false,"title":null,"labelPadding":2}},
    "y":{"field":"y","type":"nominal","scale":{"domain":["IFN","CXCR6","CCR2","TSLP"],"paddingInner":0.556,"paddingOuter":0.333},"axis":null},
    "fill":{"field":"m","type":"quantitative","scale":{"domain":[-6,-5,-4,-3.3,-2.7,-1.5,0],"range":["#000008","#132f66","#3467aa","#c3cbd8","#f1cfb3","#cf7a90","#8c0c4c"]},"legend":{"orient":"none","legendX":261,"legendY":-34,"direction":"horizontal","titleOrient":"left","gradientLength":53,"gradientThickness":10,"values":[-6,-5,-4,-3,-2,-1,0],"labelFontSize":6.5,"labelOffset":1,"title":["Log2 mean","(Molecule 1, Molecule 2)"],"titleFontSize":9.5,"titlePadding":2,"titleLimit":200}},
    "size":{"field":"p","type":"quantitative","scale":{"domain":[0,3],"range":[7,80]},"legend":{"orient":"none","legendX":438,"legendY":-31,"direction":"horizontal","titleOrient":"left","values":[0,1,2,3],"format":"d","labelFontSize":7,"title":"−log10(pval)","titleFontSize":8.5,"titlePadding":8,"columnPadding":6,"symbolStrokeWidth":0,"symbolOpacity":1}}}},
   {"data":{"values":[{"y":"IFN","b0":"CD8TTE r","b1":"CD8TE r"}]},"mark":{"type":"rect","filled":false,"color":"black","strokeWidth":1.4},"encoding":{
    "x":{"field":"b0","type":"nominal","bandPosition":-0.05,"scale":{"domain":["CD8TTE r","CD8TTE b","CD8TE r","CD8TE b","CD8T r","CD8T b","CD4 r","CD4 b","gdT r","gdT b","Treg r","Treg b","NK r","NK b","ILC r","ILC b"],"paddingInner":0,"paddingOuter":0.1},"axis":{"labelAngle":-90,"labelExpr":"split(datum.value,' ')[0]","labelColor":{"condition":{"test":"indexof(datum.value,' b')>0","value":"#4b7bd8"},"value":"#b83563"},"labelFontSize":11,"ticks":true,"tickSize":3,"tickColor":"#333","domain":false,"title":null,"labelPadding":2}},
    "x2":{"field":"b1","bandPosition":1.15},
    "y":{"field":"y","type":"nominal","scale":{"domain":["IFN","CXCR6","CCR2","TSLP"],"paddingInner":0.556,"paddingOuter":0.333},"axis":null}}}]},
  {"width":161,"height":149,"view":{"stroke":"#8a8a8a"},"data":{"name":"m11H"},"mark":{"type":"circle","opacity":1,"fill":"black","invalid":"show"},"encoding":{
   "x":{"field":"x","type":"nominal","scale":{"domain":["CD8TTE r","CD8TTE b","CD8TE r","CD8TE b","CD8T r","CD8T b","CD4 r","CD4 b","gdT r","gdT b","Treg r","Treg b","NK r","NK b","ILC r","ILC b"],"paddingInner":0,"paddingOuter":0.1},"axis":{"labelAngle":-90,"labelExpr":"split(datum.value,' ')[0]","labelColor":{"condition":{"test":"indexof(datum.value,' b')>0","value":"#4b7bd8"},"value":"#b83563"},"labelFontSize":11,"ticks":true,"tickSize":3,"tickColor":"#333","domain":false,"title":null,"labelPadding":2}},
   "y":{"field":"y","type":"nominal","scale":{"domain":["IFN","CXCR6","CCR2","TSLP"],"paddingInner":0.556,"paddingOuter":0.333},"axis":null},
   "fill":{"field":"m","type":"quantitative","scale":{"domain":[-6,-5,-4,-3.3,-2.7,-1.5,0],"range":["#000008","#132f66","#3467aa","#c3cbd8","#f1cfb3","#cf7a90","#8c0c4c"]},"legend":{"orient":"none","legendX":261,"legendY":-34,"direction":"horizontal","titleOrient":"left","gradientLength":53,"gradientThickness":10,"values":[-6,-5,-4,-3,-2,-1,0],"labelFontSize":6.5,"labelOffset":1,"title":["Log2 mean","(Molecule 1, Molecule 2)"],"titleFontSize":9.5,"titlePadding":2,"titleLimit":200}},
   "size":{"field":"p","type":"quantitative","scale":{"domain":[0,3],"range":[7,80]},"legend":{"orient":"none","legendX":438,"legendY":-31,"direction":"horizontal","titleOrient":"left","values":[0,1,2,3],"format":"d","labelFontSize":7,"title":"−log10(pval)","titleFontSize":8.5,"titlePadding":8,"columnPadding":6,"symbolStrokeWidth":0,"symbolOpacity":1}}}},
  {"width":14,"height":149,"view":{"fill":"#d9d9d9","stroke":"#8a8a8a"},"data":{"values":[{"g":"Het"}]},"mark":{"type":"text","angle":90,"fontSize":11.5,"color":"#1a1a1a"},"encoding":{"text":{"field":"g"}}}
 ],"columns":6,"spacing":{"row":2,"column":2},"align":"each"},
 {"hconcat":[
  {"width":93,"height":1,"data":{"values":[{}]},"mark":"text","encoding":{"text":{"value":""}}},
  {"width":656,"height":1,"data":{"values":[{"k":0}]},"mark":{"type":"rule","color":"#1a1a1a","strokeWidth":1.2},"encoding":{"y":{"datum":0,"type":"quantitative","scale":{"domain":[0,1]},"axis":null}},"title":{"text":"Fibroblast","orient":"bottom","anchor":"middle","fontSize":12,"offset":1}}
 ],"spacing":4}
],"spacing":3}
]
}
